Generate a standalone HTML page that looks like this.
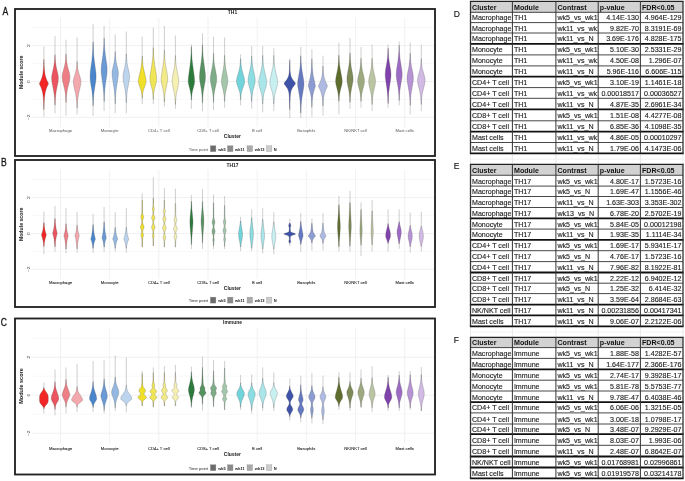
<!DOCTYPE html><html><head><meta charset="utf-8"><style>html,body{margin:0;padding:0;background:#fff;}svg{display:block;will-change:transform}</style></head><body>
<svg width="685" height="481" viewBox="0 0 685 481">
<rect width="685" height="481" fill="#ffffff"/>
<defs><clipPath id="pc0"><rect x="31" y="17.40" width="403" height="109.60"/></clipPath></defs>
<g clip-path="url(#pc0)">
<line x1="31" x2="434" y1="99.45" y2="99.45" stroke="#f3f3f3" stroke-width="0.5"/>
<line x1="31" x2="434" y1="63.55" y2="63.55" stroke="#f3f3f3" stroke-width="0.5"/>
<line x1="31" x2="434" y1="27.65" y2="27.65" stroke="#f3f3f3" stroke-width="0.5"/>
<line x1="31" x2="434" y1="117.40" y2="117.40" stroke="#e6e6e6" stroke-width="0.55"/>
<line x1="31" x2="434" y1="81.50" y2="81.50" stroke="#e6e6e6" stroke-width="0.55"/>
<line x1="31" x2="434" y1="45.60" y2="45.60" stroke="#e6e6e6" stroke-width="0.55"/>
<line x1="60.50" x2="60.50" y1="17.40" y2="127.00" stroke="#e6e6e6" stroke-width="0.55"/>
<line x1="109.67" x2="109.67" y1="17.40" y2="127.00" stroke="#e6e6e6" stroke-width="0.55"/>
<line x1="158.84" x2="158.84" y1="17.40" y2="127.00" stroke="#e6e6e6" stroke-width="0.55"/>
<line x1="208.01" x2="208.01" y1="17.40" y2="127.00" stroke="#e6e6e6" stroke-width="0.55"/>
<line x1="257.18" x2="257.18" y1="17.40" y2="127.00" stroke="#e6e6e6" stroke-width="0.55"/>
<line x1="306.35" x2="306.35" y1="17.40" y2="127.00" stroke="#e6e6e6" stroke-width="0.55"/>
<line x1="355.52" x2="355.52" y1="17.40" y2="127.00" stroke="#e6e6e6" stroke-width="0.55"/>
<line x1="404.69" x2="404.69" y1="17.40" y2="127.00" stroke="#e6e6e6" stroke-width="0.55"/>
</g>
<line x1="43.9" x2="43.9" y1="46.3" y2="116.8" stroke="#444" stroke-width="0.26"/>
<path d="M43.8,59.5 L43.7,64.3 L43.5,67.9 L43.2,71.1 L42.8,73.9 L42.3,76.3 L41.5,78.7 L40.7,80.7 L39.3,83.5 L39.4,83.9 L40.7,86.7 L41.6,89.1 L42.3,91.5 L42.8,93.9 L43.2,96.7 L43.5,100.3 L43.7,104.3 L43.8,109.5 L44.0,109.5 L44.1,104.3 L44.3,100.3 L44.6,96.7 L45.0,93.9 L45.5,91.5 L46.2,89.1 L47.1,86.7 L48.4,83.9 L48.5,83.5 L47.1,80.7 L46.3,78.7 L45.5,76.3 L45.0,73.9 L44.6,71.1 L44.3,67.9 L44.1,64.3 L44.0,59.5Z" fill="#f22626" stroke="#484848" stroke-width="0.24" stroke-linejoin="round"/>
<line x1="55.0" x2="55.0" y1="36.0" y2="113.4" stroke="#444" stroke-width="0.26"/>
<path d="M54.9,54.8 L54.7,59.6 L54.2,63.6 L53.6,67.2 L52.0,74.4 L51.7,76.4 L51.6,78.0 L51.7,80.0 L52.0,82.4 L53.6,90.8 L54.3,95.2 L54.7,99.6 L54.9,105.2 L55.1,105.2 L55.3,99.6 L55.7,95.2 L56.3,90.8 L58.0,82.4 L58.3,80.0 L58.4,78.0 L58.3,76.4 L58.0,74.4 L56.3,67.2 L55.7,63.6 L55.3,59.6 L55.1,54.8Z" fill="#ea5560" stroke="#484848" stroke-width="0.24" stroke-linejoin="round"/>
<line x1="66.0" x2="66.0" y1="39.7" y2="115.7" stroke="#444" stroke-width="0.26"/>
<path d="M65.9,54.1 L65.7,58.9 L65.5,60.9 L65.2,62.9 L64.4,66.5 L62.6,73.3 L62.2,75.3 L62.1,76.9 L62.3,78.9 L62.6,80.9 L64.4,88.5 L65.2,92.5 L65.5,94.5 L65.7,96.9 L65.9,102.5 L66.1,102.5 L66.4,96.9 L66.6,94.5 L66.9,92.5 L67.6,88.5 L69.5,80.9 L69.8,78.9 L69.9,76.9 L69.8,75.3 L69.5,73.3 L67.6,66.5 L66.9,62.9 L66.6,60.9 L66.4,58.9 L66.1,54.1Z" fill="#ee7e86" stroke="#484848" stroke-width="0.24" stroke-linejoin="round"/>
<line x1="77.1" x2="77.1" y1="37.4" y2="114.5" stroke="#444" stroke-width="0.26"/>
<path d="M77.0,61.4 L76.8,65.4 L76.6,67.4 L76.3,69.0 L75.6,72.2 L73.8,78.2 L73.4,79.8 L73.3,81.4 L73.4,83.4 L73.7,85.4 L74.1,87.4 L75.6,93.8 L76.3,98.2 L76.8,102.6 L77.0,108.2 L77.2,108.2 L77.4,102.6 L77.9,98.2 L78.6,93.8 L80.1,87.4 L80.5,85.4 L80.8,83.4 L80.9,81.4 L80.8,79.8 L80.4,78.2 L78.6,72.2 L77.9,69.0 L77.6,67.4 L77.4,65.4 L77.2,61.4Z" fill="#f3a8ae" stroke="#484848" stroke-width="0.24" stroke-linejoin="round"/>
<line x1="93.1" x2="93.1" y1="24.2" y2="115.7" stroke="#444" stroke-width="0.26"/>
<path d="M93.0,41.8 L92.8,49.0 L92.4,55.0 L91.9,60.2 L90.4,71.0 L90.2,73.8 L90.1,76.6 L90.2,79.0 L90.4,81.4 L91.9,90.6 L92.4,95.0 L92.8,99.8 L93.0,105.8 L93.2,105.8 L93.4,99.8 L93.7,95.0 L94.3,90.6 L95.7,81.4 L96.0,79.0 L96.1,76.6 L96.0,73.8 L95.7,71.0 L94.3,60.2 L93.7,55.0 L93.4,49.0 L93.2,41.8Z" fill="#4a86cc" stroke="#484848" stroke-width="0.24" stroke-linejoin="round"/>
<line x1="104.1" x2="104.1" y1="26.0" y2="111.0" stroke="#444" stroke-width="0.26"/>
<path d="M104.1,38.0 L103.9,44.4 L103.5,49.6 L102.9,54.8 L101.5,64.8 L101.2,67.6 L101.1,70.0 L101.2,72.4 L101.5,75.2 L102.9,85.2 L103.5,90.0 L103.9,95.2 L104.1,101.6 L104.2,101.6 L104.4,95.2 L104.8,90.0 L105.3,85.2 L106.8,75.2 L107.1,72.4 L107.1,70.0 L107.1,67.6 L106.8,64.8 L105.4,54.8 L104.8,49.6 L104.4,44.4 L104.2,38.0Z" fill="#6a9ad6" stroke="#484848" stroke-width="0.24" stroke-linejoin="round"/>
<line x1="115.2" x2="115.2" y1="34.5" y2="113.4" stroke="#444" stroke-width="0.26"/>
<path d="M115.1,51.7 L114.9,56.1 L114.5,59.7 L114.0,62.9 L112.3,70.1 L112.1,71.7 L112.0,73.3 L112.1,75.7 L112.4,78.1 L113.9,87.7 L114.5,92.5 L114.9,97.7 L115.1,103.7 L115.3,103.7 L115.5,97.7 L115.9,92.5 L116.5,87.7 L118.0,78.1 L118.3,75.7 L118.4,73.3 L118.3,71.7 L118.1,70.1 L116.4,62.9 L115.9,59.7 L115.5,56.1 L115.3,51.7Z" fill="#94b8e2" stroke="#484848" stroke-width="0.24" stroke-linejoin="round"/>
<line x1="126.3" x2="126.3" y1="31.5" y2="113.4" stroke="#444" stroke-width="0.26"/>
<path d="M126.2,53.9 L126.0,58.3 L125.6,62.3 L125.0,65.9 L123.4,73.1 L123.1,75.1 L123.0,76.7 L123.1,78.7 L123.3,80.7 L125.0,89.1 L125.6,93.1 L126.0,97.5 L126.2,102.7 L126.4,102.7 L126.6,97.5 L127.0,93.1 L127.6,89.1 L129.2,80.7 L129.5,78.7 L129.6,76.7 L129.5,75.1 L129.2,73.1 L127.6,65.9 L127.0,62.3 L126.6,58.3 L126.4,53.9Z" fill="#bcd4ee" stroke="#484848" stroke-width="0.24" stroke-linejoin="round"/>
<line x1="142.2" x2="142.2" y1="36.7" y2="104.2" stroke="#444" stroke-width="0.26"/>
<path d="M142.2,55.9 L141.9,61.1 L141.7,63.5 L141.4,65.5 L140.7,69.5 L139.2,75.5 L138.8,77.5 L138.5,79.5 L138.3,81.5 L138.5,82.7 L138.8,83.9 L139.1,85.1 L140.6,89.1 L141.1,90.7 L141.4,91.9 L141.9,94.7 L142.2,98.3 L142.3,98.3 L142.6,94.7 L143.0,91.9 L143.3,90.7 L143.8,89.1 L145.3,85.1 L145.7,83.9 L146.0,82.7 L146.1,81.5 L146.0,79.5 L145.7,77.5 L145.3,75.5 L143.8,69.5 L143.0,65.5 L142.8,63.5 L142.6,61.1 L142.3,55.9Z" fill="#f0e02a" stroke="#484848" stroke-width="0.24" stroke-linejoin="round"/>
<line x1="153.3" x2="153.3" y1="27.6" y2="104.2" stroke="#444" stroke-width="0.26"/>
<path d="M153.2,47.6 L153.0,54.0 L152.6,59.6 L151.9,64.4 L150.3,74.0 L150.0,76.4 L149.9,78.8 L150.0,80.4 L150.3,82.0 L150.6,83.6 L151.9,88.4 L152.6,91.6 L153.0,95.2 L153.2,99.2 L153.4,99.2 L153.6,95.2 L154.0,91.6 L154.7,88.4 L156.0,83.6 L156.4,82.0 L156.6,80.4 L156.7,78.8 L156.6,76.4 L156.3,74.0 L154.7,64.4 L154.1,59.6 L153.6,54.0 L153.4,47.6Z" fill="#f0e556" stroke="#484848" stroke-width="0.24" stroke-linejoin="round"/>
<line x1="164.4" x2="164.4" y1="26.0" y2="106.5" stroke="#444" stroke-width="0.26"/>
<path d="M164.3,50.4 L164.1,56.4 L163.6,61.2 L163.0,65.6 L161.5,74.4 L161.2,76.8 L161.1,78.8 L161.1,80.4 L161.4,82.4 L161.8,84.4 L163.1,90.0 L163.7,93.6 L164.1,97.6 L164.3,102.0 L164.5,102.0 L164.7,97.6 L165.1,93.6 L165.7,90.0 L166.9,84.4 L167.3,82.4 L167.6,80.4 L167.7,78.8 L167.6,76.8 L167.3,74.4 L165.7,65.6 L165.1,61.2 L164.7,56.4 L164.5,50.4Z" fill="#f2ea88" stroke="#484848" stroke-width="0.24" stroke-linejoin="round"/>
<line x1="175.4" x2="175.4" y1="35.6" y2="108.8" stroke="#444" stroke-width="0.26"/>
<path d="M175.4,55.6 L175.1,60.8 L174.7,65.2 L174.1,69.2 L172.5,77.2 L172.3,79.2 L172.1,81.2 L172.2,82.8 L172.5,84.8 L172.9,86.8 L174.1,92.4 L174.8,96.0 L175.2,100.0 L175.4,104.4 L175.5,104.4 L175.7,100.0 L176.1,96.0 L176.7,92.4 L178.0,86.8 L178.4,84.8 L178.7,82.8 L178.7,81.2 L178.6,79.2 L178.3,77.2 L176.8,69.2 L176.1,65.2 L175.7,60.8 L175.5,55.6Z" fill="#f5f0b2" stroke="#484848" stroke-width="0.24" stroke-linejoin="round"/>
<line x1="191.4" x2="191.4" y1="44.3" y2="108.8" stroke="#444" stroke-width="0.26"/>
<path d="M191.3,46.7 L191.1,53.5 L190.7,59.5 L190.1,65.1 L188.6,75.9 L188.3,78.7 L188.2,81.5 L188.3,82.7 L188.6,84.3 L190.1,90.3 L190.7,93.1 L191.1,96.3 L191.3,99.9 L191.5,99.9 L191.7,96.3 L192.1,93.1 L192.7,90.3 L194.3,84.3 L194.5,82.7 L194.6,81.5 L194.5,78.7 L194.2,75.9 L192.7,65.1 L192.1,59.5 L191.7,53.5 L191.5,46.7Z" fill="#2c7a3c" stroke="#484848" stroke-width="0.24" stroke-linejoin="round"/>
<line x1="202.5" x2="202.5" y1="33.3" y2="111.0" stroke="#444" stroke-width="0.26"/>
<path d="M202.4,44.9 L202.2,51.3 L201.8,56.5 L201.3,61.3 L199.8,71.7 L199.6,74.5 L199.5,76.9 L199.6,78.9 L199.8,80.9 L201.3,89.3 L201.8,93.3 L202.2,97.7 L202.4,102.9 L202.6,102.9 L202.8,97.7 L203.1,93.3 L203.7,89.3 L205.2,80.9 L205.4,78.9 L205.5,76.9 L205.4,74.5 L205.1,71.7 L203.7,61.3 L203.1,56.5 L202.8,51.3 L202.6,44.9Z" fill="#55905f" stroke="#484848" stroke-width="0.24" stroke-linejoin="round"/>
<line x1="213.5" x2="213.5" y1="36.7" y2="110.0" stroke="#444" stroke-width="0.26"/>
<path d="M213.5,53.1 L213.3,58.3 L212.9,62.7 L212.3,66.7 L210.7,75.1 L210.4,77.1 L210.3,79.1 L210.4,80.7 L210.7,82.7 L212.2,89.9 L212.8,93.5 L213.2,97.5 L213.5,102.3 L213.6,102.3 L213.8,97.5 L214.2,93.5 L214.8,89.9 L216.4,82.7 L216.6,80.7 L216.7,79.1 L216.6,77.1 L216.4,75.1 L214.8,66.7 L214.2,62.7 L213.8,58.3 L213.6,53.1Z" fill="#7fac88" stroke="#484848" stroke-width="0.24" stroke-linejoin="round"/>
<line x1="224.6" x2="224.6" y1="37.4" y2="107.7" stroke="#444" stroke-width="0.26"/>
<path d="M224.5,55.4 L224.3,60.6 L223.9,65.0 L223.3,69.0 L221.8,77.4 L221.5,79.4 L221.4,81.4 L221.5,83.0 L221.8,84.6 L223.3,91.0 L223.9,94.2 L224.3,97.4 L224.5,101.4 L224.7,101.4 L224.9,97.4 L225.3,94.2 L225.9,91.0 L227.4,84.6 L227.7,83.0 L227.8,81.4 L227.7,79.4 L227.5,77.4 L225.9,69.0 L225.3,65.0 L224.9,60.6 L224.7,55.4Z" fill="#a4c6aa" stroke="#484848" stroke-width="0.24" stroke-linejoin="round"/>
<line x1="240.6" x2="240.6" y1="54.4" y2="105.4" stroke="#444" stroke-width="0.26"/>
<path d="M240.5,58.8 L240.2,63.6 L240.0,65.6 L239.7,67.6 L239.0,70.8 L237.3,76.4 L236.9,78.0 L236.6,79.6 L236.5,81.2 L236.6,82.4 L236.9,84.0 L237.4,85.6 L239.0,90.0 L239.8,92.8 L240.1,94.4 L240.3,96.0 L240.5,99.6 L240.7,99.6 L240.9,96.0 L241.1,94.4 L241.4,92.8 L242.2,90.0 L243.8,85.6 L244.3,84.0 L244.6,82.4 L244.7,81.2 L244.5,79.6 L244.2,78.0 L243.8,76.4 L242.2,70.8 L241.5,67.6 L241.2,65.6 L240.9,63.6 L240.7,58.8Z" fill="#70d4da" stroke="#484848" stroke-width="0.24" stroke-linejoin="round"/>
<line x1="251.7" x2="251.7" y1="45.9" y2="108.8" stroke="#444" stroke-width="0.26"/>
<path d="M251.6,55.9 L251.3,61.1 L250.9,65.1 L250.2,68.7 L248.5,76.3 L248.2,78.3 L248.1,80.3 L248.2,81.9 L248.4,83.5 L250.2,90.3 L250.9,93.5 L251.3,97.1 L251.6,101.5 L251.7,101.5 L252.0,97.1 L252.4,93.5 L253.1,90.3 L254.9,83.5 L255.1,81.9 L255.2,80.3 L255.1,78.3 L254.8,76.3 L253.1,68.7 L252.4,65.1 L252.0,61.1 L251.7,55.9Z" fill="#8cdde2" stroke="#484848" stroke-width="0.24" stroke-linejoin="round"/>
<line x1="262.7" x2="262.7" y1="45.9" y2="112.3" stroke="#444" stroke-width="0.26"/>
<path d="M262.6,55.5 L262.4,61.1 L262.2,63.5 L261.9,65.9 L261.2,69.9 L259.2,78.3 L258.9,80.3 L258.7,82.3 L258.8,83.9 L259.1,85.5 L259.6,87.5 L261.1,92.3 L261.6,94.3 L261.9,95.9 L262.4,99.5 L262.6,103.9 L262.8,103.9 L263.0,99.5 L263.5,95.9 L263.8,94.3 L264.3,92.3 L265.8,87.5 L266.3,85.5 L266.6,83.9 L266.7,82.3 L266.6,80.3 L266.2,78.3 L264.3,69.9 L263.5,65.9 L263.2,63.5 L263.0,61.1 L262.8,55.5Z" fill="#aae6e9" stroke="#484848" stroke-width="0.24" stroke-linejoin="round"/>
<line x1="273.8" x2="273.8" y1="48.2" y2="111.1" stroke="#444" stroke-width="0.26"/>
<path d="M273.7,55.4 L273.5,61.0 L273.3,63.4 L273.0,65.8 L272.7,67.8 L272.2,70.2 L270.3,78.2 L270.0,80.6 L269.9,82.6 L270.0,84.2 L270.3,85.8 L272.3,92.6 L273.0,95.8 L273.5,99.4 L273.7,103.8 L273.9,103.8 L274.1,99.4 L274.6,95.8 L275.3,92.6 L277.2,85.8 L277.5,84.2 L277.7,82.6 L277.6,80.6 L277.2,78.2 L275.4,70.2 L274.9,67.8 L274.6,65.8 L274.3,63.4 L274.1,61.0 L273.9,55.4Z" fill="#c8f0f1" stroke="#484848" stroke-width="0.24" stroke-linejoin="round"/>
<line x1="289.8" x2="289.8" y1="58.5" y2="118.0" stroke="#444" stroke-width="0.26"/>
<path d="M289.7,60.1 L289.5,66.1 L289.4,70.5 L289.1,73.3 L288.7,75.3 L288.2,76.9 L287.7,78.1 L286.7,79.7 L284.5,82.5 L284.1,83.3 L284.1,83.7 L284.5,84.5 L286.6,87.3 L287.4,88.5 L288.1,90.1 L288.7,92.1 L289.1,94.5 L289.3,97.3 L289.5,102.9 L289.7,109.7 L289.8,109.7 L290.0,102.9 L290.2,97.3 L290.4,94.5 L290.8,92.1 L291.4,90.1 L292.1,88.5 L292.9,87.3 L295.0,84.5 L295.4,83.7 L295.4,83.3 L295.0,82.5 L292.8,79.7 L291.8,78.1 L291.3,76.9 L290.8,75.3 L290.4,73.3 L290.1,70.5 L290.0,66.1 L289.8,60.1Z" fill="#3e53a8" stroke="#484848" stroke-width="0.24" stroke-linejoin="round"/>
<line x1="300.8" x2="300.8" y1="47.0" y2="118.0" stroke="#444" stroke-width="0.26"/>
<path d="M300.7,55.8 L300.5,61.8 L300.1,67.0 L299.4,71.8 L297.9,80.2 L297.7,82.2 L297.6,83.8 L297.7,85.4 L298.0,87.4 L299.5,96.2 L300.1,101.0 L300.5,106.6 L300.7,113.0 L300.9,113.0 L301.1,106.6 L301.5,101.0 L302.2,96.2 L303.7,87.4 L303.9,85.4 L304.0,83.8 L303.9,82.2 L303.7,80.2 L302.2,71.8 L301.5,67.0 L301.1,61.8 L300.9,55.8Z" fill="#6479c1" stroke="#484848" stroke-width="0.24" stroke-linejoin="round"/>
<line x1="311.9" x2="311.9" y1="49.3" y2="116.8" stroke="#444" stroke-width="0.26"/>
<path d="M311.8,58.9 L311.7,62.9 L311.5,66.5 L311.3,69.7 L311.0,72.5 L310.6,74.9 L310.2,77.3 L308.5,84.5 L308.3,85.7 L308.3,86.1 L308.6,87.3 L310.1,92.1 L310.6,94.1 L311.0,96.1 L311.3,98.5 L311.5,100.9 L311.7,103.7 L311.8,107.3 L312.0,107.3 L312.1,103.7 L312.2,100.9 L312.5,98.5 L312.8,96.1 L313.2,94.1 L313.6,92.1 L315.1,87.3 L315.5,86.1 L315.4,85.7 L315.2,84.5 L313.6,77.3 L313.1,74.9 L312.8,72.5 L312.5,69.7 L312.2,66.5 L312.1,62.9 L312.0,58.9Z" fill="#8c9cd2" stroke="#484848" stroke-width="0.24" stroke-linejoin="round"/>
<line x1="323.0" x2="323.0" y1="55.7" y2="115.7" stroke="#444" stroke-width="0.26"/>
<path d="M322.9,66.1 L322.7,69.3 L322.6,72.1 L322.3,74.5 L321.8,76.9 L321.3,78.9 L320.8,80.5 L320.2,82.1 L318.7,85.3 L318.5,85.7 L318.5,86.1 L318.7,86.9 L320.2,90.1 L320.8,91.7 L321.3,93.3 L321.8,95.3 L322.3,97.7 L322.6,100.1 L322.7,102.9 L322.9,106.1 L323.0,106.1 L323.2,102.9 L323.3,100.1 L323.6,97.7 L324.1,95.3 L324.6,93.3 L325.1,91.7 L325.7,90.1 L327.2,86.9 L327.4,86.1 L327.4,85.7 L327.2,85.3 L325.7,82.1 L325.1,80.5 L324.6,78.9 L324.1,76.9 L323.6,74.5 L323.3,72.1 L323.2,69.3 L323.0,66.1Z" fill="#aebae1" stroke="#484848" stroke-width="0.24" stroke-linejoin="round"/>
<line x1="338.9" x2="338.9" y1="42.5" y2="114.5" stroke="#444" stroke-width="0.26"/>
<path d="M338.8,55.3 L338.6,60.9 L338.2,65.3 L337.6,69.3 L336.0,77.3 L335.7,79.3 L335.6,81.3 L335.7,82.9 L336.0,84.5 L337.6,90.9 L338.2,94.1 L338.6,97.3 L338.8,101.3 L339.0,101.3 L339.2,97.3 L339.6,94.1 L340.2,90.9 L341.9,84.5 L342.1,82.9 L342.2,81.3 L342.1,79.3 L341.8,77.3 L340.3,69.3 L339.6,65.3 L339.2,60.9 L339.0,55.3Z" fill="#5e6d2e" stroke="#484848" stroke-width="0.24" stroke-linejoin="round"/>
<line x1="350.0" x2="350.0" y1="37.9" y2="108.8" stroke="#444" stroke-width="0.26"/>
<path d="M349.9,53.1 L349.7,58.3 L349.3,62.7 L348.7,66.7 L347.3,74.7 L347.0,77.1 L346.9,79.1 L347.0,80.7 L347.2,82.7 L348.7,89.9 L349.3,93.5 L349.7,97.5 L349.9,102.3 L350.1,102.3 L350.3,97.5 L350.7,93.5 L351.3,89.9 L352.7,82.7 L353.0,80.7 L353.1,79.1 L353.0,77.1 L352.7,74.7 L351.2,66.7 L350.7,62.7 L350.3,58.3 L350.1,53.1Z" fill="#7d8956" stroke="#484848" stroke-width="0.24" stroke-linejoin="round"/>
<line x1="361.0" x2="361.0" y1="47.0" y2="107.7" stroke="#444" stroke-width="0.26"/>
<path d="M361.0,58.2 L360.7,63.0 L360.3,67.0 L359.7,70.6 L358.0,77.8 L357.7,79.8 L357.6,81.4 L357.8,83.0 L358.0,84.6 L359.6,90.6 L360.3,93.8 L360.7,97.4 L361.0,101.4 L361.1,101.4 L361.3,97.4 L361.8,93.8 L362.5,90.6 L364.1,84.6 L364.3,83.0 L364.4,81.4 L364.4,79.8 L364.1,77.8 L362.4,70.6 L361.8,67.0 L361.3,63.0 L361.1,58.2Z" fill="#9da97e" stroke="#484848" stroke-width="0.24" stroke-linejoin="round"/>
<line x1="372.1" x2="372.1" y1="44.7" y2="111.1" stroke="#444" stroke-width="0.26"/>
<path d="M372.0,58.3 L371.8,63.1 L371.4,67.1 L370.7,70.7 L369.1,77.9 L368.8,79.9 L368.7,81.5 L368.8,83.1 L369.1,85.1 L370.7,91.9 L371.4,95.5 L371.8,99.5 L372.0,104.3 L372.2,104.3 L372.4,99.5 L372.9,95.5 L373.5,91.9 L375.1,85.1 L375.4,83.1 L375.5,81.5 L375.4,79.9 L375.2,77.9 L373.5,70.7 L372.9,67.1 L372.4,63.1 L372.2,58.3Z" fill="#bcc5a3" stroke="#484848" stroke-width="0.24" stroke-linejoin="round"/>
<line x1="388.1" x2="388.1" y1="44.7" y2="107.7" stroke="#444" stroke-width="0.26"/>
<path d="M388.0,48.3 L387.8,53.5 L387.5,57.9 L386.9,61.9 L385.5,70.3 L385.3,72.7 L385.2,74.7 L385.3,77.1 L385.6,79.5 L386.9,88.3 L387.4,92.7 L387.8,97.5 L388.0,103.5 L388.2,103.5 L388.4,97.5 L388.7,92.7 L389.3,88.3 L390.6,79.5 L390.9,77.1 L391.0,74.7 L390.9,72.7 L390.7,70.3 L389.3,61.9 L388.7,57.9 L388.4,53.5 L388.2,48.3Z" fill="#8042ab" stroke="#484848" stroke-width="0.24" stroke-linejoin="round"/>
<line x1="399.2" x2="399.2" y1="41.3" y2="105.4" stroke="#444" stroke-width="0.26"/>
<path d="M399.1,45.3 L398.9,51.3 L398.5,56.1 L398.0,60.5 L396.5,69.7 L396.3,72.1 L396.2,74.5 L396.3,76.5 L396.5,78.5 L398.0,86.9 L398.5,90.9 L398.9,95.3 L399.1,100.5 L399.2,100.5 L399.4,95.3 L399.8,90.9 L400.4,86.9 L401.8,78.5 L402.1,76.5 L402.2,74.5 L402.1,72.1 L401.8,69.7 L400.3,60.5 L399.8,56.1 L399.4,51.3 L399.2,45.3Z" fill="#9c6bc3" stroke="#484848" stroke-width="0.24" stroke-linejoin="round"/>
<line x1="410.2" x2="410.2" y1="42.5" y2="114.5" stroke="#444" stroke-width="0.26"/>
<path d="M410.1,53.3 L409.9,58.5 L409.5,62.5 L408.9,66.5 L407.4,74.1 L407.1,76.1 L407.0,78.1 L407.1,80.1 L407.4,82.5 L408.9,90.9 L409.5,95.3 L409.9,99.7 L410.1,105.3 L410.3,105.3 L410.5,99.7 L410.9,95.3 L411.5,90.9 L413.0,82.5 L413.3,80.1 L413.4,78.1 L413.3,76.1 L413.1,74.1 L411.5,66.5 L410.9,62.5 L410.5,58.5 L410.3,53.3Z" fill="#b693d3" stroke="#484848" stroke-width="0.24" stroke-linejoin="round"/>
<line x1="421.3" x2="421.3" y1="44.7" y2="111.1" stroke="#444" stroke-width="0.26"/>
<path d="M421.2,58.7 L421.0,63.1 L420.5,66.7 L420.2,68.3 L419.8,70.3 L418.3,75.5 L417.9,77.1 L417.6,78.7 L417.5,80.3 L417.6,81.9 L417.9,83.9 L419.8,91.5 L420.5,95.1 L420.9,99.1 L421.2,104.3 L421.4,104.3 L421.6,99.1 L422.1,95.1 L422.8,91.5 L424.7,83.9 L425.0,81.9 L425.1,80.3 L425.0,78.7 L424.7,77.1 L424.3,75.5 L422.8,70.3 L422.3,68.3 L422.0,66.7 L421.6,63.1 L421.4,58.7Z" fill="#d1bae4" stroke="#484848" stroke-width="0.24" stroke-linejoin="round"/>
<text transform="translate(29.5,45.60) rotate(-90) scale(1.35,1)" font-size="3.7" fill="#444" text-anchor="middle" style="font-family:'Liberation Sans',sans-serif">2</text>
<text transform="translate(29.5,81.50) rotate(-90) scale(1.35,1)" font-size="3.7" fill="#444" text-anchor="middle" style="font-family:'Liberation Sans',sans-serif">0</text>
<text transform="translate(29.5,117.40) rotate(-90) scale(1.35,1)" font-size="3.7" fill="#444" text-anchor="middle" style="font-family:'Liberation Sans',sans-serif">−2</text>
<text transform="translate(22.9,72.40) rotate(-90)" font-size="5.20" font-weight="bold" fill="#1a1a1a" text-anchor="middle" style="font-family:'Liberation Sans',sans-serif">Module score</text>
<text transform="translate(232.5,14.40) scale(0.9,1)" font-size="5.5" font-weight="bold" fill="#1a1a1a" text-anchor="middle" style="font-family:'Liberation Sans',sans-serif">TH1</text>
<text x="60.50" y="132.30" font-size="4.15" fill="#555" stroke="#555" stroke-width="0.00" text-anchor="middle" style="font-family:'Liberation Sans',sans-serif">Macrophage</text>
<text x="109.67" y="132.30" font-size="4.15" fill="#555" stroke="#555" stroke-width="0.00" text-anchor="middle" style="font-family:'Liberation Sans',sans-serif">Monocyte</text>
<text x="158.84" y="132.30" font-size="4.15" fill="#555" stroke="#555" stroke-width="0.00" text-anchor="middle" style="font-family:'Liberation Sans',sans-serif">CD4+ T cell</text>
<text x="208.01" y="132.30" font-size="4.15" fill="#555" stroke="#555" stroke-width="0.00" text-anchor="middle" style="font-family:'Liberation Sans',sans-serif">CD8+ T cell</text>
<text x="257.18" y="132.30" font-size="4.15" fill="#555" stroke="#555" stroke-width="0.00" text-anchor="middle" style="font-family:'Liberation Sans',sans-serif">B cell</text>
<text x="306.35" y="132.30" font-size="4.15" fill="#555" stroke="#555" stroke-width="0.00" text-anchor="middle" style="font-family:'Liberation Sans',sans-serif">Basophils</text>
<text x="355.52" y="132.30" font-size="4.15" fill="#555" stroke="#555" stroke-width="0.00" text-anchor="middle" style="font-family:'Liberation Sans',sans-serif">NK/NKT cell</text>
<text x="404.69" y="132.30" font-size="4.15" fill="#555" stroke="#555" stroke-width="0.00" text-anchor="middle" style="font-family:'Liberation Sans',sans-serif">Mast cells</text>
<text x="232.4" y="138.20" font-size="5.0" font-weight="bold" fill="#1a1a1a" text-anchor="middle" style="font-family:'Liberation Sans',sans-serif">Cluster</text>
<text x="188.7" y="150.60" font-size="4.2" fill="#555" style="font-family:'Liberation Sans',sans-serif">Time point</text>
<rect x="210.30" y="145.70" width="5.6" height="6" fill="#6b6b6b" stroke="#999" stroke-width="0.3"/>
<text x="218.20" y="150.60" font-size="4.0" font-weight="bold" fill="#1a1a1a" style="font-family:'Liberation Sans',sans-serif">wk5</text>
<rect x="227.40" y="145.70" width="5.6" height="6" fill="#8a8a8a" stroke="#999" stroke-width="0.3"/>
<text x="235.10" y="150.60" font-size="4.0" font-weight="bold" fill="#1a1a1a" style="font-family:'Liberation Sans',sans-serif">wk11</text>
<rect x="247.00" y="145.70" width="5.6" height="6" fill="#aaaaaa" stroke="#999" stroke-width="0.3"/>
<text x="254.80" y="150.60" font-size="4.0" font-weight="bold" fill="#1a1a1a" style="font-family:'Liberation Sans',sans-serif">wk13</text>
<rect x="266.30" y="145.70" width="5.6" height="6" fill="#cccccc" stroke="#999" stroke-width="0.3"/>
<text x="273.70" y="150.60" font-size="4.0" font-weight="bold" fill="#1a1a1a" style="font-family:'Liberation Sans',sans-serif">N</text>
<rect x="15.00" y="9.00" width="420.00" height="147.00" fill="none" stroke="#222" stroke-width="1.85"/>
<text transform="translate(2.60,15.10) scale(0.86,1)" font-size="10" fill="#111" stroke="#111" stroke-width="0.25" style="font-family:'Liberation Sans',sans-serif">A</text>
<defs><clipPath id="pc1"><rect x="31" y="169.40" width="403" height="109.60"/></clipPath></defs>
<g clip-path="url(#pc1)">
<line x1="31" x2="434" y1="251.45" y2="251.45" stroke="#f3f3f3" stroke-width="0.5"/>
<line x1="31" x2="434" y1="215.55" y2="215.55" stroke="#f3f3f3" stroke-width="0.5"/>
<line x1="31" x2="434" y1="179.65" y2="179.65" stroke="#f3f3f3" stroke-width="0.5"/>
<line x1="31" x2="434" y1="269.40" y2="269.40" stroke="#e6e6e6" stroke-width="0.55"/>
<line x1="31" x2="434" y1="233.50" y2="233.50" stroke="#e6e6e6" stroke-width="0.55"/>
<line x1="31" x2="434" y1="197.60" y2="197.60" stroke="#e6e6e6" stroke-width="0.55"/>
<line x1="60.50" x2="60.50" y1="169.40" y2="279.00" stroke="#e6e6e6" stroke-width="0.55"/>
<line x1="109.67" x2="109.67" y1="169.40" y2="279.00" stroke="#e6e6e6" stroke-width="0.55"/>
<line x1="158.84" x2="158.84" y1="169.40" y2="279.00" stroke="#e6e6e6" stroke-width="0.55"/>
<line x1="208.01" x2="208.01" y1="169.40" y2="279.00" stroke="#e6e6e6" stroke-width="0.55"/>
<line x1="257.18" x2="257.18" y1="169.40" y2="279.00" stroke="#e6e6e6" stroke-width="0.55"/>
<line x1="306.35" x2="306.35" y1="169.40" y2="279.00" stroke="#e6e6e6" stroke-width="0.55"/>
<line x1="355.52" x2="355.52" y1="169.40" y2="279.00" stroke="#e6e6e6" stroke-width="0.55"/>
<line x1="404.69" x2="404.69" y1="169.40" y2="279.00" stroke="#e6e6e6" stroke-width="0.55"/>
</g>
<line x1="43.9" x2="43.9" y1="211.6" y2="254.0" stroke="#444" stroke-width="0.26"/>
<path d="M43.7,222.8 L43.4,226.4 L43.0,229.2 L42.4,232.0 L41.5,234.8 L41.5,235.2 L42.4,238.0 L43.0,240.4 L43.5,243.2 L43.7,246.4 L44.1,246.4 L44.3,243.2 L44.8,240.4 L45.4,238.0 L46.3,235.2 L46.3,234.8 L45.4,232.0 L44.8,229.2 L44.4,226.4 L44.1,222.8Z" fill="#f22626" stroke="#484848" stroke-width="0.24" stroke-linejoin="round"/>
<line x1="55.0" x2="55.0" y1="205.9" y2="251.7" stroke="#444" stroke-width="0.26"/>
<path d="M54.8,218.7 L54.5,222.7 L54.2,226.3 L53.7,229.1 L52.7,233.1 L52.7,233.5 L53.6,236.7 L54.1,239.5 L54.5,242.7 L54.8,246.7 L55.2,246.7 L55.4,242.7 L55.8,239.5 L56.4,236.7 L57.2,233.5 L57.2,233.1 L56.2,229.1 L55.8,226.3 L55.4,222.7 L55.2,218.7Z" fill="#ea5560" stroke="#484848" stroke-width="0.24" stroke-linejoin="round"/>
<line x1="66.0" x2="66.0" y1="208.2" y2="253.5" stroke="#444" stroke-width="0.26"/>
<path d="M65.8,223.8 L65.6,227.0 L65.3,229.8 L64.7,232.6 L63.9,235.4 L63.9,235.8 L64.7,239.0 L65.2,241.8 L65.6,245.0 L65.8,249.0 L66.2,249.0 L66.5,245.0 L66.9,241.8 L67.4,239.0 L68.2,235.8 L68.2,235.4 L67.4,232.6 L66.8,229.8 L66.5,227.0 L66.2,223.8Z" fill="#ee7e86" stroke="#484848" stroke-width="0.24" stroke-linejoin="round"/>
<line x1="77.1" x2="77.1" y1="211.6" y2="252.8" stroke="#444" stroke-width="0.26"/>
<path d="M76.9,225.2 L76.6,228.4 L76.3,230.8 L75.8,232.8 L74.9,235.6 L75.7,238.8 L76.2,241.6 L76.6,244.8 L76.9,248.8 L77.3,248.8 L77.6,244.8 L78.0,241.6 L78.5,238.8 L79.3,235.6 L78.4,232.8 L77.9,230.8 L77.6,228.4 L77.3,225.2Z" fill="#f3a8ae" stroke="#484848" stroke-width="0.24" stroke-linejoin="round"/>
<line x1="93.1" x2="93.1" y1="213.9" y2="252.8" stroke="#444" stroke-width="0.26"/>
<path d="M92.9,224.7 L92.6,228.7 L92.2,232.3 L91.7,235.5 L90.8,239.1 L91.7,241.5 L92.2,243.5 L92.6,245.5 L92.9,248.3 L93.3,248.3 L93.5,245.5 L93.9,243.5 L94.5,241.5 L95.4,239.1 L94.5,235.5 L93.9,232.3 L93.5,228.7 L93.3,224.7Z" fill="#4a86cc" stroke="#484848" stroke-width="0.24" stroke-linejoin="round"/>
<line x1="104.1" x2="104.1" y1="207.0" y2="251.7" stroke="#444" stroke-width="0.26"/>
<path d="M103.9,221.8 L103.7,226.6 L103.3,230.6 L102.8,233.8 L102.0,237.8 L102.0,238.2 L102.9,240.6 L103.4,242.6 L103.7,244.6 L103.9,247.0 L104.4,247.0 L104.6,244.6 L104.9,242.6 L105.4,240.6 L106.3,238.2 L106.3,237.8 L105.5,233.8 L105.0,230.6 L104.6,226.6 L104.3,221.8Z" fill="#6a9ad6" stroke="#484848" stroke-width="0.24" stroke-linejoin="round"/>
<line x1="115.2" x2="115.2" y1="212.3" y2="251.7" stroke="#444" stroke-width="0.26"/>
<path d="M115.0,227.5 L114.7,231.1 L114.2,233.9 L113.6,236.3 L112.7,239.1 L113.7,241.5 L114.3,243.5 L114.7,245.5 L115.0,248.3 L115.4,248.3 L115.7,245.5 L116.1,243.5 L116.7,241.5 L117.7,239.1 L116.8,236.3 L116.2,233.9 L115.7,231.1 L115.4,227.5Z" fill="#94b8e2" stroke="#484848" stroke-width="0.24" stroke-linejoin="round"/>
<line x1="126.3" x2="126.3" y1="208.2" y2="252.8" stroke="#444" stroke-width="0.26"/>
<path d="M126.1,227.4 L125.8,231.0 L125.3,233.8 L124.7,236.2 L123.8,239.0 L123.9,239.4 L124.9,241.8 L125.4,243.4 L125.8,245.4 L126.1,248.2 L126.5,248.2 L126.8,245.4 L127.2,243.4 L127.6,241.8 L128.7,239.4 L128.7,239.0 L127.8,236.2 L127.2,233.8 L126.8,231.0 L126.5,227.4Z" fill="#bcd4ee" stroke="#484848" stroke-width="0.24" stroke-linejoin="round"/>
<line x1="142.2" x2="142.2" y1="193.3" y2="247.1" stroke="#444" stroke-width="0.26"/>
<path d="M142.1,200.1 L141.9,212.5 L141.9,213.3 L141.7,214.1 L141.0,216.1 L140.8,216.9 L140.9,217.7 L141.6,219.7 L141.8,220.5 L141.8,221.3 L141.8,222.5 L141.7,223.3 L141.5,224.1 L140.6,226.1 L140.4,226.9 L140.4,227.3 L140.6,228.1 L141.5,230.1 L141.7,231.3 L141.7,232.5 L141.0,234.5 L140.9,235.3 L141.1,236.1 L141.7,237.7 L141.9,238.9 L142.0,240.5 L142.1,247.1 L142.4,247.1 L142.5,240.5 L142.6,238.9 L142.8,237.7 L143.4,236.1 L143.5,235.3 L143.4,234.5 L142.8,232.5 L142.7,231.3 L143.0,230.1 L143.9,228.1 L144.1,227.3 L144.1,226.9 L143.8,226.1 L143.0,224.1 L142.7,223.3 L142.6,222.5 L142.6,221.3 L142.7,220.5 L142.9,219.7 L143.6,217.7 L143.6,216.9 L143.5,216.1 L142.8,214.1 L142.6,213.3 L142.5,212.5 L142.4,200.1Z" fill="#f0e02a" stroke="#484848" stroke-width="0.24" stroke-linejoin="round"/>
<line x1="153.3" x2="153.3" y1="177.3" y2="246.0" stroke="#444" stroke-width="0.26"/>
<path d="M153.2,198.1 L153.1,205.7 L152.9,206.5 L152.5,208.1 L152.4,208.9 L152.4,209.7 L152.9,211.7 L153.0,213.3 L152.9,214.1 L152.7,214.9 L151.8,216.9 L151.6,217.7 L151.7,218.5 L152.4,220.1 L152.7,220.9 L152.9,221.7 L152.9,222.9 L152.7,224.1 L152.4,224.9 L151.6,226.5 L151.5,227.3 L151.7,228.1 L152.6,230.1 L152.8,230.9 L152.9,231.7 L152.9,233.3 L152.8,234.1 L152.5,235.3 L152.4,236.1 L152.6,236.9 L152.9,238.1 L153.0,238.9 L153.2,246.0 L153.5,246.0 L153.6,238.9 L153.7,238.1 L154.0,236.9 L154.2,236.1 L154.1,235.3 L153.8,234.1 L153.7,233.3 L153.7,231.7 L153.8,230.9 L154.0,230.1 L155.0,228.1 L155.2,227.3 L155.0,226.5 L154.3,224.9 L153.9,224.1 L153.7,222.9 L153.8,221.7 L153.9,220.9 L154.2,220.1 L154.9,218.5 L155.0,217.7 L154.9,216.9 L153.9,214.9 L153.7,214.1 L153.7,213.3 L153.7,211.7 L154.2,209.7 L154.3,208.9 L154.1,208.1 L153.7,206.5 L153.6,205.7 L153.4,198.1Z" fill="#f0e556" stroke="#484848" stroke-width="0.24" stroke-linejoin="round"/>
<line x1="164.4" x2="164.4" y1="188.0" y2="247.1" stroke="#444" stroke-width="0.26"/>
<path d="M164.2,200.0 L164.1,207.6 L163.9,208.8 L163.5,210.0 L163.3,210.8 L163.4,211.6 L163.9,213.6 L164.0,214.8 L163.8,216.0 L163.0,218.0 L162.8,218.8 L162.8,219.6 L163.8,222.0 L163.9,222.8 L163.9,223.6 L163.7,224.8 L163.4,225.6 L162.6,227.2 L162.4,228.0 L162.6,228.8 L163.4,230.4 L163.8,231.2 L164.0,232.4 L164.0,233.6 L163.9,234.4 L163.7,235.2 L163.0,236.8 L162.9,237.2 L162.9,237.6 L163.2,238.4 L163.9,240.0 L164.1,240.8 L164.2,242.4 L164.2,247.1 L164.5,247.1 L164.6,242.4 L164.7,240.8 L164.9,240.0 L165.6,238.4 L165.8,237.6 L165.8,237.2 L165.8,236.8 L165.1,235.2 L164.8,234.4 L164.7,233.6 L164.8,232.4 L165.0,231.2 L165.3,230.4 L166.1,228.8 L166.3,228.0 L166.2,227.2 L165.3,225.6 L165.0,224.8 L164.8,223.6 L164.8,222.8 L165.0,222.0 L165.9,219.6 L166.0,218.8 L165.8,218.0 L164.9,216.0 L164.7,214.8 L164.8,213.6 L165.4,211.6 L165.4,210.8 L165.2,210.0 L164.8,208.8 L164.6,207.6 L164.5,200.0Z" fill="#f2ea88" stroke="#484848" stroke-width="0.24" stroke-linejoin="round"/>
<line x1="175.4" x2="175.4" y1="188.7" y2="247.1" stroke="#444" stroke-width="0.26"/>
<path d="M175.3,203.5 L175.1,215.9 L174.9,217.1 L174.2,219.1 L174.0,219.9 L174.1,220.7 L174.7,222.3 L174.9,223.1 L175.0,224.3 L174.8,225.5 L174.5,226.3 L173.6,227.9 L173.5,228.7 L173.6,229.5 L174.6,231.5 L174.9,232.3 L174.9,232.7 L174.9,233.5 L174.9,233.9 L174.6,234.7 L174.1,235.9 L174.0,236.7 L174.1,237.5 L174.8,239.1 L175.1,240.3 L175.2,241.9 L175.3,247.1 L175.6,247.1 L175.7,241.9 L175.8,240.3 L176.1,239.1 L176.8,237.5 L176.9,236.7 L176.8,235.9 L176.3,234.7 L176.0,233.9 L175.9,233.5 L175.9,232.7 L176.0,232.3 L176.2,231.5 L177.2,229.5 L177.4,228.7 L177.2,227.9 L176.4,226.3 L176.1,225.5 L175.9,224.3 L176.0,223.1 L176.2,222.3 L176.8,220.7 L176.9,219.9 L176.7,219.1 L175.9,217.1 L175.8,215.9 L175.6,203.5Z" fill="#f5f0b2" stroke="#484848" stroke-width="0.24" stroke-linejoin="round"/>
<line x1="191.4" x2="191.4" y1="194.9" y2="249.0" stroke="#444" stroke-width="0.26"/>
<path d="M191.3,201.3 L191.0,208.1 L190.0,218.5 L189.9,222.1 L190.0,225.7 L191.0,236.9 L191.3,244.5 L191.5,244.5 L191.9,236.9 L192.8,225.7 L193.0,222.1 L192.8,218.5 L191.8,208.1 L191.5,201.3Z" fill="#2c7a3c" stroke="#484848" stroke-width="0.24" stroke-linejoin="round"/>
<line x1="202.5" x2="202.5" y1="189.0" y2="249.0" stroke="#444" stroke-width="0.26"/>
<path d="M202.4,201.4 L202.1,207.8 L201.2,217.8 L201.0,221.0 L201.2,224.6 L202.1,235.8 L202.4,243.0 L202.6,243.0 L202.9,235.8 L203.8,224.6 L203.9,221.0 L203.8,217.8 L202.9,207.8 L202.6,201.4Z" fill="#55905f" stroke="#484848" stroke-width="0.24" stroke-linejoin="round"/>
<line x1="213.5" x2="213.5" y1="194.5" y2="249.0" stroke="#444" stroke-width="0.26"/>
<path d="M213.4,202.9 L213.2,216.9 L213.0,218.5 L212.3,220.9 L212.2,222.1 L212.2,222.9 L212.9,225.3 L213.0,226.1 L213.0,226.9 L212.9,228.1 L212.1,230.5 L212.0,231.3 L212.0,231.7 L212.1,232.5 L212.8,234.5 L213.0,235.3 L213.2,236.1 L213.2,236.9 L213.2,237.7 L212.9,239.3 L212.8,240.1 L213.3,242.5 L213.4,245.7 L213.7,245.7 L213.8,242.5 L214.3,240.1 L214.2,239.3 L213.9,237.7 L213.9,236.9 L213.9,236.1 L214.0,235.3 L214.2,234.5 L214.9,232.5 L215.1,231.7 L215.1,231.3 L215.0,230.5 L214.2,228.1 L214.1,226.9 L214.1,226.1 L214.2,225.3 L214.8,222.9 L214.9,222.1 L214.8,220.9 L214.1,218.5 L213.9,216.9 L213.7,202.9Z" fill="#7fac88" stroke="#484848" stroke-width="0.24" stroke-linejoin="round"/>
<line x1="224.6" x2="224.6" y1="196.0" y2="249.0" stroke="#444" stroke-width="0.26"/>
<path d="M224.5,205.6 L224.3,215.6 L224.3,217.6 L224.1,218.8 L223.4,221.2 L223.3,222.0 L223.4,222.8 L224.0,225.2 L224.1,226.4 L223.9,227.6 L223.1,230.0 L223.0,230.8 L223.1,231.6 L224.0,234.0 L224.2,235.2 L224.2,236.0 L224.2,236.8 L223.7,238.8 L223.7,239.6 L223.8,240.4 L224.2,241.6 L224.3,242.4 L224.4,243.6 L224.5,246.4 L224.7,246.4 L224.8,243.6 L224.9,242.4 L225.1,241.6 L225.4,240.4 L225.6,239.6 L225.5,238.8 L225.0,236.8 L225.0,236.0 L225.0,235.2 L225.2,234.0 L226.1,231.6 L226.2,230.8 L226.1,230.0 L225.3,227.6 L225.1,226.4 L225.2,225.2 L225.8,222.8 L225.9,222.0 L225.8,221.2 L225.1,218.8 L225.0,217.6 L224.9,215.6 L224.7,205.6Z" fill="#a4c6aa" stroke="#484848" stroke-width="0.24" stroke-linejoin="round"/>
<line x1="240.6" x2="240.6" y1="216.9" y2="251.2" stroke="#444" stroke-width="0.26"/>
<path d="M240.4,220.9 L240.2,222.9 L239.9,224.9 L238.8,231.3 L238.6,232.9 L238.6,234.5 L238.6,235.7 L238.8,237.3 L239.9,243.3 L240.4,246.9 L240.8,246.9 L241.2,243.3 L242.4,237.3 L242.5,235.7 L242.6,234.5 L242.5,232.9 L242.3,231.3 L241.2,224.9 L241.0,222.9 L240.8,220.9Z" fill="#70d4da" stroke="#484848" stroke-width="0.24" stroke-linejoin="round"/>
<line x1="251.7" x2="251.7" y1="209.3" y2="251.2" stroke="#444" stroke-width="0.26"/>
<path d="M251.4,217.7 L251.1,222.1 L250.1,230.1 L249.9,232.1 L249.9,234.1 L249.9,235.7 L250.0,237.3 L251.0,244.1 L251.4,248.1 L251.9,248.1 L252.3,244.1 L253.3,237.3 L253.4,235.7 L253.4,234.1 L253.4,232.1 L253.2,230.1 L252.2,222.1 L251.9,217.7Z" fill="#8cdde2" stroke="#484848" stroke-width="0.24" stroke-linejoin="round"/>
<line x1="262.7" x2="262.7" y1="208.2" y2="253.5" stroke="#444" stroke-width="0.26"/>
<path d="M262.5,219.4 L262.1,224.2 L261.1,232.2 L261.0,234.2 L260.9,235.8 L261.0,237.4 L261.1,239.0 L262.1,245.4 L262.5,249.0 L262.9,249.0 L263.3,245.4 L264.3,239.0 L264.5,237.4 L264.5,235.8 L264.5,234.2 L264.3,232.2 L263.3,224.2 L262.9,219.4Z" fill="#aae6e9" stroke="#484848" stroke-width="0.24" stroke-linejoin="round"/>
<line x1="273.8" x2="273.8" y1="212.3" y2="254.4" stroke="#444" stroke-width="0.26"/>
<path d="M273.6,221.9 L273.4,224.3 L273.1,226.3 L272.0,233.5 L271.8,235.5 L271.8,237.1 L271.8,238.3 L272.0,239.5 L273.1,245.5 L273.4,247.1 L273.6,249.1 L274.0,249.1 L274.2,247.1 L274.4,245.5 L275.6,239.5 L275.7,238.3 L275.8,237.1 L275.7,235.5 L275.6,233.5 L274.4,226.3 L274.2,224.3 L274.0,221.9Z" fill="#c8f0f1" stroke="#484848" stroke-width="0.24" stroke-linejoin="round"/>
<line x1="289.8" x2="289.8" y1="218.5" y2="246.0" stroke="#444" stroke-width="0.26"/>
<path d="M289.5,222.9 L289.2,223.7 L288.7,224.9 L288.6,225.3 L288.6,225.7 L289.1,227.3 L289.2,228.1 L289.2,229.3 L289.0,230.9 L289.0,231.3 L288.8,231.7 L288.4,232.1 L287.6,232.5 L285.1,233.3 L284.1,233.7 L283.9,234.1 L284.6,234.5 L287.1,235.3 L288.1,235.7 L288.6,236.1 L288.9,236.5 L289.1,236.9 L289.2,237.7 L289.3,239.3 L289.2,239.7 L288.8,240.9 L288.7,241.3 L288.8,241.7 L289.5,243.3 L290.0,243.3 L290.7,241.7 L290.8,241.3 L290.7,240.9 L290.3,239.7 L290.2,239.3 L290.3,237.7 L290.4,236.9 L290.6,236.5 L290.9,236.1 L291.4,235.7 L292.4,235.3 L294.9,234.5 L295.6,234.1 L295.4,233.7 L294.4,233.3 L291.9,232.5 L291.1,232.1 L290.7,231.7 L290.5,231.3 L290.5,230.9 L290.3,229.3 L290.3,228.1 L290.4,227.3 L290.9,225.7 L290.9,225.3 L290.8,224.9 L290.3,223.7 L290.0,222.9Z" fill="#3e53a8" stroke="#484848" stroke-width="0.24" stroke-linejoin="round"/>
<line x1="300.8" x2="300.8" y1="212.8" y2="251.7" stroke="#444" stroke-width="0.26"/>
<path d="M300.6,221.6 L300.4,224.4 L300.1,227.2 L299.6,229.6 L298.7,234.0 L298.5,235.6 L298.8,236.8 L299.6,239.2 L300.0,240.8 L300.3,242.4 L300.6,244.4 L301.0,244.4 L301.3,242.4 L301.6,240.8 L302.1,239.2 L302.9,236.8 L303.1,235.6 L302.9,234.0 L302.0,229.6 L301.6,227.2 L301.2,224.4 L301.0,221.6Z" fill="#6479c1" stroke="#484848" stroke-width="0.24" stroke-linejoin="round"/>
<line x1="311.9" x2="311.9" y1="218.5" y2="250.5" stroke="#444" stroke-width="0.26"/>
<path d="M311.7,223.3 L311.2,228.5 L311.0,230.1 L310.7,231.3 L310.3,232.5 L310.0,233.3 L309.2,234.5 L308.2,235.7 L308.1,236.1 L309.6,237.7 L310.3,238.5 L310.7,239.3 L311.1,240.1 L311.3,240.9 L311.7,242.9 L312.1,242.9 L312.4,240.9 L312.7,240.1 L313.0,239.3 L313.5,238.5 L314.1,237.7 L315.6,236.1 L315.5,235.7 L314.6,234.5 L313.8,233.3 L313.4,232.5 L313.0,231.3 L312.8,230.1 L312.5,228.5 L312.1,223.3Z" fill="#8c9cd2" stroke="#484848" stroke-width="0.24" stroke-linejoin="round"/>
<line x1="323.0" x2="323.0" y1="212.8" y2="250.5" stroke="#444" stroke-width="0.26"/>
<path d="M322.7,223.2 L322.3,228.4 L321.8,231.2 L321.5,232.4 L321.2,233.2 L320.0,235.6 L319.9,236.0 L320.1,236.4 L321.3,238.4 L321.9,239.6 L322.4,241.2 L322.7,243.2 L323.2,243.2 L323.5,241.2 L324.0,239.6 L324.6,238.4 L325.8,236.4 L326.0,236.0 L325.9,235.6 L324.7,233.2 L324.4,232.4 L324.1,231.2 L323.6,228.4 L323.2,223.2Z" fill="#aebae1" stroke="#484848" stroke-width="0.24" stroke-linejoin="round"/>
<line x1="338.9" x2="338.9" y1="195.6" y2="251.5" stroke="#444" stroke-width="0.26"/>
<path d="M338.8,204.8 L338.5,212.0 L337.6,223.6 L337.5,227.6 L337.7,231.6 L338.5,241.6 L338.8,246.8 L339.1,246.8 L339.3,241.6 L340.1,231.6 L340.3,227.6 L340.2,223.6 L339.4,212.0 L339.1,204.8Z" fill="#5e6d2e" stroke="#484848" stroke-width="0.24" stroke-linejoin="round"/>
<line x1="350.0" x2="350.0" y1="191.0" y2="251.5" stroke="#444" stroke-width="0.26"/>
<path d="M349.8,202.6 L349.6,209.0 L348.9,221.0 L348.7,225.8 L348.8,229.4 L349.5,239.8 L349.8,246.2 L350.1,246.2 L350.4,239.8 L351.2,229.4 L351.3,225.8 L351.1,221.0 L350.4,209.0 L350.1,202.6Z" fill="#7d8956" stroke="#484848" stroke-width="0.24" stroke-linejoin="round"/>
<line x1="361.0" x2="361.0" y1="202.4" y2="256.0" stroke="#444" stroke-width="0.26"/>
<path d="M360.9,209.6 L360.7,216.0 L360.0,226.8 L359.9,230.8 L360.0,233.6 L360.6,240.8 L360.9,245.2 L361.2,245.2 L361.5,240.8 L362.1,233.6 L362.2,230.8 L362.1,226.8 L361.4,216.0 L361.2,209.6Z" fill="#9da97e" stroke="#484848" stroke-width="0.24" stroke-linejoin="round"/>
<line x1="372.1" x2="372.1" y1="200.1" y2="251.5" stroke="#444" stroke-width="0.26"/>
<path d="M372.0,210.9 L371.7,217.3 L371.1,228.1 L371.0,232.1 L371.1,234.5 L371.7,240.9 L372.0,244.9 L372.3,244.9 L372.5,240.9 L373.2,234.5 L373.3,232.1 L373.2,228.1 L372.5,217.3 L372.3,210.9Z" fill="#bcc5a3" stroke="#484848" stroke-width="0.24" stroke-linejoin="round"/>
<line x1="388.1" x2="388.1" y1="209.3" y2="251.5" stroke="#444" stroke-width="0.26"/>
<path d="M387.9,223.7 L387.7,225.3 L387.4,226.9 L386.3,230.9 L386.0,232.5 L385.8,233.7 L385.7,235.3 L385.7,236.5 L386.0,237.7 L387.4,241.3 L387.6,242.1 L387.8,243.3 L388.3,243.3 L388.6,242.1 L388.8,241.3 L390.2,237.7 L390.4,236.5 L390.5,235.3 L390.4,233.7 L390.2,232.5 L389.9,230.9 L388.8,226.9 L388.5,225.3 L388.3,223.7Z" fill="#8042ab" stroke="#484848" stroke-width="0.24" stroke-linejoin="round"/>
<line x1="399.2" x2="399.2" y1="209.3" y2="248.8" stroke="#444" stroke-width="0.26"/>
<path d="M399.0,221.7 L398.7,223.3 L398.5,224.5 L397.3,229.3 L397.1,230.5 L397.1,232.1 L397.1,233.7 L397.3,235.3 L398.5,240.9 L398.9,243.7 L399.4,243.7 L399.8,240.9 L401.0,235.3 L401.2,233.7 L401.3,232.1 L401.2,230.5 L401.0,229.3 L399.8,224.5 L399.6,223.3 L399.4,221.7Z" fill="#9c6bc3" stroke="#484848" stroke-width="0.24" stroke-linejoin="round"/>
<line x1="410.2" x2="410.2" y1="212.7" y2="252.7" stroke="#444" stroke-width="0.26"/>
<path d="M410.0,225.5 L409.6,227.9 L408.4,233.1 L408.2,234.3 L408.1,235.9 L408.2,237.5 L408.3,238.7 L408.7,240.3 L409.6,243.9 L410.0,246.7 L410.4,246.7 L410.9,243.9 L411.8,240.3 L412.1,238.7 L412.3,237.5 L412.3,235.9 L412.2,234.3 L412.1,233.1 L410.8,227.9 L410.5,225.5Z" fill="#b693d3" stroke="#484848" stroke-width="0.24" stroke-linejoin="round"/>
<line x1="421.3" x2="421.3" y1="211.6" y2="251.5" stroke="#444" stroke-width="0.26"/>
<path d="M421.1,226.0 L420.7,228.0 L419.7,231.6 L419.4,232.8 L419.2,234.4 L419.2,236.0 L419.3,238.0 L419.5,239.6 L420.7,244.4 L421.0,246.4 L421.5,246.4 L421.9,244.4 L423.1,239.6 L423.3,238.0 L423.4,236.0 L423.3,234.4 L423.1,232.8 L422.9,231.6 L421.9,228.0 L421.5,226.0Z" fill="#d1bae4" stroke="#484848" stroke-width="0.24" stroke-linejoin="round"/>
<text transform="translate(29.5,197.60) rotate(-90) scale(1.35,1)" font-size="3.7" fill="#444" text-anchor="middle" style="font-family:'Liberation Sans',sans-serif">2</text>
<text transform="translate(29.5,233.50) rotate(-90) scale(1.35,1)" font-size="3.7" fill="#444" text-anchor="middle" style="font-family:'Liberation Sans',sans-serif">0</text>
<text transform="translate(29.5,269.40) rotate(-90) scale(1.35,1)" font-size="3.7" fill="#444" text-anchor="middle" style="font-family:'Liberation Sans',sans-serif">−2</text>
<text transform="translate(22.9,224.40) rotate(-90)" font-size="5.20" font-weight="bold" fill="#1a1a1a" text-anchor="middle" style="font-family:'Liberation Sans',sans-serif">Module score</text>
<text transform="translate(232.5,166.70) scale(0.9,1)" font-size="5.5" font-weight="bold" fill="#1a1a1a" text-anchor="middle" style="font-family:'Liberation Sans',sans-serif">TH17</text>
<text x="60.50" y="283.90" font-size="4.15" fill="#262626" stroke="#262626" stroke-width="0.08" text-anchor="middle" style="font-family:'Liberation Sans',sans-serif">Macrophage</text>
<text x="109.67" y="283.90" font-size="4.15" fill="#262626" stroke="#262626" stroke-width="0.08" text-anchor="middle" style="font-family:'Liberation Sans',sans-serif">Monocyte</text>
<text x="158.84" y="283.90" font-size="4.15" fill="#262626" stroke="#262626" stroke-width="0.08" text-anchor="middle" style="font-family:'Liberation Sans',sans-serif">CD4+ T cell</text>
<text x="208.01" y="283.90" font-size="4.15" fill="#262626" stroke="#262626" stroke-width="0.08" text-anchor="middle" style="font-family:'Liberation Sans',sans-serif">CD8+ T cell</text>
<text x="257.18" y="283.90" font-size="4.15" fill="#262626" stroke="#262626" stroke-width="0.08" text-anchor="middle" style="font-family:'Liberation Sans',sans-serif">B cell</text>
<text x="306.35" y="283.90" font-size="4.15" fill="#262626" stroke="#262626" stroke-width="0.08" text-anchor="middle" style="font-family:'Liberation Sans',sans-serif">Basophils</text>
<text x="355.52" y="283.90" font-size="4.15" fill="#262626" stroke="#262626" stroke-width="0.08" text-anchor="middle" style="font-family:'Liberation Sans',sans-serif">NK/NKT cell</text>
<text x="404.69" y="283.90" font-size="4.15" fill="#262626" stroke="#262626" stroke-width="0.08" text-anchor="middle" style="font-family:'Liberation Sans',sans-serif">Mast cells</text>
<text x="232.4" y="289.80" font-size="5.0" font-weight="bold" fill="#1a1a1a" text-anchor="middle" style="font-family:'Liberation Sans',sans-serif">Cluster</text>
<text x="188.7" y="302.00" font-size="4.2" fill="#262626" style="font-family:'Liberation Sans',sans-serif">Time point</text>
<rect x="210.30" y="297.10" width="5.6" height="6" fill="#6b6b6b" stroke="#999" stroke-width="0.3"/>
<text x="218.20" y="302.00" font-size="4.0" font-weight="bold" fill="#1a1a1a" style="font-family:'Liberation Sans',sans-serif">wk5</text>
<rect x="227.40" y="297.10" width="5.6" height="6" fill="#8a8a8a" stroke="#999" stroke-width="0.3"/>
<text x="235.10" y="302.00" font-size="4.0" font-weight="bold" fill="#1a1a1a" style="font-family:'Liberation Sans',sans-serif">wk11</text>
<rect x="247.00" y="297.10" width="5.6" height="6" fill="#aaaaaa" stroke="#999" stroke-width="0.3"/>
<text x="254.80" y="302.00" font-size="4.0" font-weight="bold" fill="#1a1a1a" style="font-family:'Liberation Sans',sans-serif">wk13</text>
<rect x="266.30" y="297.10" width="5.6" height="6" fill="#cccccc" stroke="#999" stroke-width="0.3"/>
<text x="273.70" y="302.00" font-size="4.0" font-weight="bold" fill="#1a1a1a" style="font-family:'Liberation Sans',sans-serif">N</text>
<rect x="15.00" y="160.00" width="420.00" height="147.00" fill="none" stroke="#222" stroke-width="1.85"/>
<text transform="translate(0.90,165.80) scale(0.86,1)" font-size="10" fill="#111" stroke="#111" stroke-width="0.25" style="font-family:'Liberation Sans',sans-serif">B</text>
<defs><clipPath id="pc2"><rect x="31" y="327.50" width="403" height="115.90"/></clipPath></defs>
<g clip-path="url(#pc2)">
<line x1="31" x2="434" y1="414.20" y2="414.20" stroke="#f3f3f3" stroke-width="0.5"/>
<line x1="31" x2="434" y1="376.20" y2="376.20" stroke="#f3f3f3" stroke-width="0.5"/>
<line x1="31" x2="434" y1="338.20" y2="338.20" stroke="#f3f3f3" stroke-width="0.5"/>
<line x1="31" x2="434" y1="433.20" y2="433.20" stroke="#e6e6e6" stroke-width="0.55"/>
<line x1="31" x2="434" y1="395.20" y2="395.20" stroke="#e6e6e6" stroke-width="0.55"/>
<line x1="31" x2="434" y1="357.20" y2="357.20" stroke="#e6e6e6" stroke-width="0.55"/>
<line x1="60.50" x2="60.50" y1="327.50" y2="443.40" stroke="#e6e6e6" stroke-width="0.55"/>
<line x1="109.67" x2="109.67" y1="327.50" y2="443.40" stroke="#e6e6e6" stroke-width="0.55"/>
<line x1="158.84" x2="158.84" y1="327.50" y2="443.40" stroke="#e6e6e6" stroke-width="0.55"/>
<line x1="208.01" x2="208.01" y1="327.50" y2="443.40" stroke="#e6e6e6" stroke-width="0.55"/>
<line x1="257.18" x2="257.18" y1="327.50" y2="443.40" stroke="#e6e6e6" stroke-width="0.55"/>
<line x1="306.35" x2="306.35" y1="327.50" y2="443.40" stroke="#e6e6e6" stroke-width="0.55"/>
<line x1="355.52" x2="355.52" y1="327.50" y2="443.40" stroke="#e6e6e6" stroke-width="0.55"/>
<line x1="404.69" x2="404.69" y1="327.50" y2="443.40" stroke="#e6e6e6" stroke-width="0.55"/>
</g>
<line x1="43.9" x2="43.9" y1="382.4" y2="413.5" stroke="#444" stroke-width="0.26"/>
<path d="M43.8,387.6 L43.5,388.8 L43.0,390.0 L42.5,390.8 L40.8,393.2 L40.3,394.0 L40.0,394.8 L39.7,395.6 L39.6,396.4 L39.5,397.6 L39.5,399.2 L39.6,401.2 L39.7,402.0 L40.0,402.8 L40.8,404.0 L42.5,406.0 L43.0,406.8 L43.5,407.6 L43.8,408.8 L44.0,408.8 L44.3,407.6 L44.8,406.8 L45.3,406.0 L47.0,404.0 L47.8,402.8 L48.1,402.0 L48.2,401.2 L48.3,399.2 L48.3,397.6 L48.2,396.4 L48.1,395.6 L47.8,394.8 L47.5,394.0 L47.0,393.2 L45.3,390.8 L44.8,390.0 L44.3,388.8 L44.0,387.6Z" fill="#f22626" stroke="#484848" stroke-width="0.24" stroke-linejoin="round"/>
<line x1="55.0" x2="55.0" y1="369.4" y2="415.3" stroke="#444" stroke-width="0.26"/>
<path d="M54.9,381.8 L54.6,385.4 L54.1,388.2 L53.5,390.6 L51.6,395.8 L51.3,397.4 L51.2,398.6 L51.3,399.4 L51.6,400.2 L53.5,403.8 L54.2,405.4 L54.4,406.2 L54.7,407.4 L54.9,409.4 L55.1,409.4 L55.3,407.4 L55.5,406.2 L55.7,405.4 L56.4,403.8 L58.4,400.2 L58.7,399.4 L58.8,398.6 L58.7,397.4 L58.3,395.8 L56.5,390.6 L55.8,388.2 L55.3,385.4 L55.1,381.8Z" fill="#ea5560" stroke="#484848" stroke-width="0.24" stroke-linejoin="round"/>
<line x1="66.0" x2="66.0" y1="367.4" y2="413.5" stroke="#444" stroke-width="0.26"/>
<path d="M65.9,379.4 L65.7,382.6 L65.5,384.2 L65.2,385.4 L64.5,387.8 L62.7,392.2 L62.4,393.4 L62.2,394.6 L62.3,395.4 L62.6,396.6 L63.1,397.8 L64.5,400.6 L65.3,402.6 L65.7,404.6 L65.9,407.0 L66.1,407.0 L66.4,404.6 L66.8,402.6 L67.5,400.6 L68.9,397.8 L69.4,396.6 L69.8,395.4 L69.8,394.6 L69.7,393.4 L69.3,392.2 L67.6,387.8 L66.9,385.4 L66.6,384.2 L66.4,382.6 L66.1,379.4Z" fill="#ee7e86" stroke="#484848" stroke-width="0.24" stroke-linejoin="round"/>
<line x1="77.1" x2="77.1" y1="363.7" y2="412.3" stroke="#444" stroke-width="0.26"/>
<path d="M77.0,386.5 L76.9,388.1 L76.7,389.3 L76.4,390.5 L76.0,391.7 L75.6,392.5 L74.9,393.7 L72.2,397.7 L71.7,398.9 L71.5,399.7 L71.6,400.1 L71.8,400.5 L72.1,400.9 L75.1,403.3 L75.8,404.1 L76.1,404.5 L76.4,404.9 L76.7,405.7 L76.9,406.5 L77.0,407.3 L77.2,407.3 L77.3,406.5 L77.5,405.7 L77.8,404.9 L78.1,404.5 L78.4,404.1 L79.1,403.3 L82.1,400.9 L82.4,400.5 L82.6,400.1 L82.7,399.7 L82.5,398.9 L82.0,397.7 L79.3,393.7 L78.6,392.5 L78.2,391.7 L77.8,390.5 L77.5,389.3 L77.3,388.1 L77.2,386.5Z" fill="#f3a8ae" stroke="#484848" stroke-width="0.24" stroke-linejoin="round"/>
<line x1="93.1" x2="93.1" y1="361.2" y2="412.3" stroke="#444" stroke-width="0.26"/>
<path d="M93.0,381.6 L92.7,385.2 L92.3,388.0 L91.6,390.8 L89.9,396.0 L89.6,397.2 L89.5,398.4 L89.6,399.2 L89.9,400.0 L91.6,402.8 L92.3,404.4 L92.8,406.0 L93.0,407.6 L93.2,407.6 L93.4,406.0 L93.8,404.4 L94.6,402.8 L96.3,400.0 L96.6,399.2 L96.7,398.4 L96.5,397.2 L96.3,396.0 L94.6,390.8 L93.8,388.0 L93.4,385.2 L93.2,381.6Z" fill="#4a86cc" stroke="#484848" stroke-width="0.24" stroke-linejoin="round"/>
<line x1="104.1" x2="104.1" y1="359.9" y2="413.5" stroke="#444" stroke-width="0.26"/>
<path d="M104.1,378.7 L103.8,382.3 L103.5,385.1 L102.9,387.9 L101.4,393.1 L101.0,394.7 L100.9,395.9 L101.0,397.1 L101.3,398.3 L102.8,402.7 L103.5,405.1 L103.9,407.5 L104.1,410.3 L104.2,410.3 L104.4,407.5 L104.8,405.1 L105.5,402.7 L107.0,398.3 L107.3,397.1 L107.3,395.9 L107.2,394.7 L106.9,393.1 L105.4,387.9 L104.8,385.1 L104.4,382.3 L104.2,378.7Z" fill="#6a9ad6" stroke="#484848" stroke-width="0.24" stroke-linejoin="round"/>
<line x1="115.2" x2="115.2" y1="355.4" y2="411.0" stroke="#444" stroke-width="0.26"/>
<path d="M115.1,377.0 L114.9,380.2 L114.5,382.6 L113.8,385.0 L112.0,389.8 L111.7,391.0 L111.6,392.2 L111.7,393.4 L112.0,394.6 L112.4,395.8 L113.8,399.8 L114.5,402.2 L114.9,404.6 L115.1,407.8 L115.3,407.8 L115.5,404.6 L115.9,402.2 L116.6,399.8 L118.0,395.8 L118.4,394.6 L118.7,393.4 L118.8,392.2 L118.7,391.0 L118.4,389.8 L116.6,385.0 L115.9,382.6 L115.5,380.2 L115.3,377.0Z" fill="#94b8e2" stroke="#484848" stroke-width="0.24" stroke-linejoin="round"/>
<line x1="126.3" x2="126.3" y1="357.4" y2="412.3" stroke="#444" stroke-width="0.26"/>
<path d="M126.2,385.0 L126.1,386.6 L125.9,387.8 L125.6,389.0 L125.2,390.2 L124.7,391.4 L124.0,392.6 L122.1,395.4 L121.3,396.6 L120.8,397.8 L120.7,398.6 L120.8,399.0 L121.0,399.4 L121.4,399.8 L123.9,401.8 L125.1,403.0 L125.4,403.4 L125.8,404.2 L126.0,405.0 L126.2,405.8 L126.4,405.8 L126.5,405.0 L126.8,404.2 L127.2,403.4 L127.5,403.0 L128.6,401.8 L131.1,399.8 L131.5,399.4 L131.8,399.0 L131.9,398.6 L131.7,397.8 L131.2,396.6 L130.5,395.4 L128.5,392.6 L127.8,391.4 L127.3,390.2 L126.9,389.0 L126.6,387.8 L126.5,386.6 L126.4,385.0Z" fill="#bcd4ee" stroke="#484848" stroke-width="0.24" stroke-linejoin="round"/>
<line x1="142.2" x2="142.2" y1="371.1" y2="406.0" stroke="#444" stroke-width="0.26"/>
<path d="M142.2,373.5 L141.9,381.9 L141.8,384.3 L141.6,385.5 L141.4,386.3 L141.1,387.1 L140.5,387.9 L139.3,389.5 L139.0,389.9 L138.9,390.3 L138.9,390.7 L139.0,391.1 L139.2,391.5 L140.0,392.7 L140.4,393.5 L140.5,393.9 L140.4,394.3 L140.2,394.7 L139.9,395.1 L138.2,396.7 L138.0,397.1 L137.9,397.5 L138.0,397.9 L138.3,398.3 L140.4,399.9 L140.9,400.3 L141.5,401.1 L141.8,401.9 L142.0,402.7 L142.1,406.0 L142.3,406.0 L142.5,402.7 L142.7,401.9 L143.0,401.1 L143.6,400.3 L144.1,399.9 L146.1,398.3 L146.5,397.9 L146.6,397.5 L146.5,397.1 L146.3,396.7 L144.6,395.1 L144.3,394.7 L144.1,394.3 L144.0,393.9 L144.1,393.5 L144.5,392.7 L145.3,391.5 L145.5,391.1 L145.6,390.7 L145.6,390.3 L145.4,389.9 L145.2,389.5 L144.0,387.9 L143.4,387.1 L143.1,386.3 L142.9,385.5 L142.7,384.3 L142.6,381.9 L142.3,373.5Z" fill="#f0e02a" stroke="#484848" stroke-width="0.24" stroke-linejoin="round"/>
<line x1="153.3" x2="153.3" y1="367.4" y2="407.3" stroke="#444" stroke-width="0.26"/>
<path d="M153.2,372.6 L153.1,378.2 L152.9,381.8 L152.7,382.6 L152.1,384.2 L151.9,385.0 L152.0,385.8 L152.4,387.0 L152.3,387.8 L152.2,388.2 L151.7,389.0 L150.1,390.6 L149.9,391.0 L149.8,391.4 L150.0,391.8 L150.2,392.2 L151.3,393.4 L151.6,393.8 L151.7,394.2 L151.7,394.6 L151.6,395.0 L151.3,395.4 L150.1,396.6 L149.8,397.0 L149.7,397.4 L149.8,397.8 L150.0,398.2 L151.9,399.8 L152.2,400.2 L152.7,401.0 L152.9,401.8 L153.0,402.6 L153.2,407.0 L153.4,407.0 L153.6,402.6 L153.7,401.8 L153.9,401.0 L154.4,400.2 L154.8,399.8 L156.6,398.2 L156.8,397.8 L156.9,397.4 L156.8,397.0 L156.5,396.6 L155.3,395.4 L155.0,395.0 L154.9,394.6 L154.9,394.2 L155.0,393.8 L155.3,393.4 L156.4,392.2 L156.7,391.8 L156.8,391.4 L156.7,391.0 L156.5,390.6 L154.9,389.0 L154.4,388.2 L154.3,387.8 L154.3,387.0 L154.6,385.8 L154.7,385.0 L154.5,384.2 L153.9,382.6 L153.7,381.8 L153.5,378.2 L153.4,372.6Z" fill="#f0e556" stroke="#484848" stroke-width="0.24" stroke-linejoin="round"/>
<line x1="164.4" x2="164.4" y1="366.1" y2="406.0" stroke="#444" stroke-width="0.26"/>
<path d="M164.3,372.5 L164.0,381.3 L163.9,382.5 L163.2,384.5 L163.1,384.9 L163.1,385.3 L163.3,386.9 L163.1,387.7 L162.8,388.1 L161.7,389.7 L161.5,390.1 L161.4,390.5 L161.5,390.9 L161.6,391.3 L162.7,392.9 L162.9,393.3 L163.0,393.7 L163.0,394.1 L163.0,394.5 L162.8,394.9 L162.5,395.3 L161.4,396.5 L161.1,396.9 L161.0,397.3 L161.0,397.7 L161.2,398.1 L161.5,398.5 L163.2,400.1 L163.5,400.5 L163.8,401.3 L164.0,402.1 L164.1,402.9 L164.3,406.0 L164.5,406.0 L164.6,402.9 L164.7,402.1 L164.9,401.3 L165.3,400.5 L165.6,400.1 L167.2,398.5 L167.6,398.1 L167.7,397.7 L167.8,397.3 L167.6,396.9 L167.4,396.5 L166.3,395.3 L166.0,394.9 L165.8,394.5 L165.7,394.1 L165.7,393.7 L165.8,393.3 L166.0,392.9 L167.1,391.3 L167.3,390.9 L167.3,390.5 L167.3,390.1 L167.1,389.7 L165.9,388.1 L165.7,387.7 L165.5,386.9 L165.6,385.3 L165.6,384.9 L165.5,384.5 L164.9,382.5 L164.7,381.3 L164.5,372.5Z" fill="#f2ea88" stroke="#484848" stroke-width="0.24" stroke-linejoin="round"/>
<line x1="175.4" x2="175.4" y1="364.9" y2="406.0" stroke="#444" stroke-width="0.26"/>
<path d="M175.4,372.5 L175.2,378.1 L175.0,381.7 L174.8,382.9 L174.2,384.1 L173.9,384.9 L173.9,385.3 L174.3,386.5 L174.3,386.9 L174.4,387.3 L174.3,387.7 L174.0,388.1 L173.7,388.5 L172.5,389.7 L172.2,390.1 L172.0,390.5 L172.0,390.9 L172.2,391.3 L172.5,391.7 L173.6,392.9 L173.9,393.3 L174.1,393.7 L174.2,394.1 L174.1,394.5 L174.0,394.9 L173.7,395.3 L172.6,396.5 L172.4,396.9 L172.2,397.3 L172.3,397.7 L172.5,398.1 L172.8,398.5 L174.4,400.1 L174.8,400.9 L175.1,401.7 L175.2,402.5 L175.3,406.0 L175.6,406.0 L175.7,402.5 L175.8,401.7 L176.0,400.9 L176.5,400.1 L178.1,398.5 L178.4,398.1 L178.6,397.7 L178.6,397.3 L178.5,396.9 L178.2,396.5 L177.2,395.3 L176.9,394.9 L176.8,394.5 L176.7,394.1 L176.8,393.7 L177.0,393.3 L177.3,392.9 L178.4,391.7 L178.7,391.3 L178.9,390.9 L178.9,390.5 L178.7,390.1 L178.4,389.7 L177.2,388.5 L176.8,388.1 L176.6,387.7 L176.5,387.3 L176.5,386.9 L176.6,386.5 L177.0,385.3 L177.0,384.9 L176.7,384.1 L176.1,382.9 L175.9,381.7 L175.7,378.1 L175.5,372.5Z" fill="#f5f0b2" stroke="#484848" stroke-width="0.24" stroke-linejoin="round"/>
<line x1="191.4" x2="191.4" y1="366.6" y2="408.0" stroke="#444" stroke-width="0.26"/>
<path d="M191.3,371.8 L191.1,375.4 L190.8,378.6 L190.2,381.4 L188.8,387.0 L188.5,388.6 L188.4,389.8 L188.5,391.0 L188.7,392.2 L190.1,397.4 L190.7,400.2 L191.1,403.0 L191.3,406.6 L191.5,406.6 L191.7,403.0 L192.1,400.2 L192.7,397.4 L194.1,392.2 L194.3,391.0 L194.4,389.8 L194.3,388.6 L194.1,387.0 L192.6,381.4 L192.1,378.6 L191.7,375.4 L191.5,371.8Z" fill="#2c7a3c" stroke="#484848" stroke-width="0.24" stroke-linejoin="round"/>
<line x1="202.5" x2="202.5" y1="356.6" y2="410.6" stroke="#444" stroke-width="0.26"/>
<path d="M202.4,367.4 L202.1,375.8 L201.8,382.6 L201.6,384.2 L201.3,385.4 L200.9,386.2 L200.2,387.4 L200.1,387.8 L200.0,388.6 L200.2,389.8 L200.2,390.2 L200.1,390.6 L199.9,391.0 L199.1,392.2 L199.0,392.6 L198.9,393.0 L199.0,393.4 L199.3,393.8 L201.1,395.8 L201.4,396.2 L201.8,397.0 L201.9,397.8 L202.1,399.4 L202.4,404.2 L202.6,404.2 L202.8,399.4 L203.0,397.8 L203.2,397.0 L203.6,396.2 L203.8,395.8 L205.7,393.8 L205.9,393.4 L206.0,393.0 L206.0,392.6 L205.8,392.2 L205.1,391.0 L204.9,390.6 L204.8,390.2 L204.8,389.8 L205.0,388.6 L204.9,387.8 L204.7,387.4 L204.0,386.2 L203.6,385.4 L203.3,384.2 L203.2,382.6 L202.8,375.8 L202.6,367.4Z" fill="#55905f" stroke="#484848" stroke-width="0.24" stroke-linejoin="round"/>
<line x1="213.5" x2="213.5" y1="360.0" y2="407.3" stroke="#444" stroke-width="0.26"/>
<path d="M213.5,370.8 L213.2,378.4 L213.0,382.0 L212.8,383.6 L212.6,384.4 L212.2,385.2 L211.2,386.8 L210.7,387.6 L210.6,388.0 L210.6,388.4 L210.6,388.8 L211.1,390.0 L211.2,390.8 L211.2,391.6 L210.8,392.8 L210.8,393.2 L210.8,393.6 L211.2,394.4 L212.0,395.6 L212.5,396.4 L212.8,397.2 L212.9,398.0 L213.2,401.6 L213.5,406.4 L213.6,406.4 L213.8,401.6 L214.2,398.0 L214.3,397.2 L214.6,396.4 L215.1,395.6 L215.9,394.4 L216.3,393.6 L216.3,393.2 L216.3,392.8 L215.9,391.6 L215.8,390.8 L216.0,390.0 L216.4,388.8 L216.5,388.4 L216.5,388.0 L216.4,387.6 L215.9,386.8 L214.8,385.2 L214.5,384.4 L214.3,383.6 L214.1,382.0 L213.9,378.4 L213.6,370.8Z" fill="#7fac88" stroke="#484848" stroke-width="0.24" stroke-linejoin="round"/>
<line x1="224.6" x2="224.6" y1="360.8" y2="409.8" stroke="#444" stroke-width="0.26"/>
<path d="M224.5,368.0 L224.3,376.0 L224.0,381.2 L223.9,382.8 L223.6,384.0 L222.7,385.6 L222.5,386.0 L222.4,386.4 L222.4,386.8 L222.8,388.4 L222.9,388.8 L222.8,389.2 L222.6,389.6 L221.8,390.8 L221.6,391.2 L221.6,391.6 L221.7,392.0 L221.9,392.4 L223.1,394.0 L223.3,394.4 L223.6,395.2 L223.6,396.0 L223.5,396.4 L223.4,396.8 L222.6,398.4 L222.5,398.8 L222.5,399.2 L222.6,399.6 L223.7,401.2 L223.9,401.6 L224.1,402.4 L224.3,404.4 L224.5,409.8 L224.7,409.8 L224.9,404.4 L225.1,402.4 L225.3,401.6 L225.5,401.2 L226.6,399.6 L226.7,399.2 L226.8,398.8 L226.7,398.4 L225.9,396.8 L225.7,396.4 L225.7,396.0 L225.7,395.2 L225.9,394.4 L226.1,394.0 L227.3,392.4 L227.5,392.0 L227.6,391.6 L227.6,391.2 L227.4,390.8 L226.7,389.6 L226.5,389.2 L226.4,388.8 L226.4,388.4 L226.9,386.8 L226.9,386.4 L226.8,386.0 L226.6,385.6 L225.6,384.0 L225.3,382.8 L225.2,381.2 L224.9,376.0 L224.7,368.0Z" fill="#a4c6aa" stroke="#484848" stroke-width="0.24" stroke-linejoin="round"/>
<line x1="240.6" x2="240.6" y1="374.9" y2="409.8" stroke="#444" stroke-width="0.26"/>
<path d="M240.5,382.9 L240.3,384.9 L240.0,386.1 L239.8,386.9 L239.1,388.5 L237.5,391.3 L237.1,392.1 L236.9,392.9 L236.8,393.7 L236.9,394.5 L237.2,395.7 L239.1,400.1 L239.8,402.1 L240.0,403.3 L240.2,404.5 L240.5,407.3 L240.7,407.3 L240.9,404.5 L241.1,403.3 L241.4,402.1 L242.1,400.1 L244.0,395.7 L244.3,394.5 L244.4,393.7 L244.3,392.9 L244.0,392.1 L243.6,391.3 L242.1,388.5 L241.4,386.9 L241.1,386.1 L240.9,384.9 L240.7,382.9Z" fill="#70d4da" stroke="#484848" stroke-width="0.24" stroke-linejoin="round"/>
<line x1="251.7" x2="251.7" y1="374.4" y2="413.5" stroke="#444" stroke-width="0.26"/>
<path d="M251.6,382.8 L251.4,384.8 L250.9,386.8 L250.2,388.8 L248.9,391.2 L248.4,392.4 L248.1,393.2 L248.1,394.0 L248.2,395.2 L248.4,396.4 L248.8,397.6 L250.3,402.0 L250.9,404.4 L251.3,407.2 L251.6,410.4 L251.7,410.4 L252.0,407.2 L252.4,404.4 L253.0,402.0 L254.5,397.6 L254.9,396.4 L255.1,395.2 L255.2,394.0 L255.2,393.2 L254.9,392.4 L254.4,391.2 L253.1,388.8 L252.4,386.8 L251.9,384.8 L251.7,382.8Z" fill="#8cdde2" stroke="#484848" stroke-width="0.24" stroke-linejoin="round"/>
<line x1="262.7" x2="262.7" y1="367.4" y2="411.0" stroke="#444" stroke-width="0.26"/>
<path d="M262.6,378.2 L262.4,381.4 L261.9,383.8 L261.2,386.2 L259.5,390.6 L259.2,391.8 L259.1,393.0 L259.2,394.2 L259.6,395.4 L261.2,399.8 L262.0,402.2 L262.4,404.6 L262.6,407.8 L262.8,407.8 L263.0,404.6 L263.5,402.2 L264.2,399.8 L265.9,395.4 L266.2,394.2 L266.3,393.0 L266.2,391.8 L265.9,390.6 L264.2,386.2 L263.5,383.8 L263.0,381.4 L262.8,378.2Z" fill="#aae6e9" stroke="#484848" stroke-width="0.24" stroke-linejoin="round"/>
<line x1="273.8" x2="273.8" y1="372.4" y2="411.0" stroke="#444" stroke-width="0.26"/>
<path d="M273.7,382.8 L273.5,384.8 L273.2,386.0 L273.0,386.8 L272.3,388.4 L270.9,390.8 L270.5,391.6 L270.3,392.4 L270.2,393.2 L270.3,394.4 L270.7,395.6 L272.2,399.6 L273.0,402.0 L273.4,404.4 L273.7,407.6 L273.9,407.6 L274.1,404.4 L274.6,402.0 L275.3,399.6 L276.9,395.6 L277.2,394.4 L277.4,393.2 L277.3,392.4 L277.0,391.6 L276.7,390.8 L275.3,388.4 L274.6,386.8 L274.3,386.0 L274.1,384.8 L273.9,382.8Z" fill="#c8f0f1" stroke="#484848" stroke-width="0.24" stroke-linejoin="round"/>
<line x1="289.8" x2="289.8" y1="378.4" y2="420.5" stroke="#444" stroke-width="0.26"/>
<path d="M289.7,386.0 L289.4,388.0 L289.2,389.2 L288.9,390.0 L288.2,391.6 L286.7,394.4 L286.4,395.2 L286.3,396.0 L286.3,396.4 L286.5,397.2 L286.9,398.0 L288.5,400.4 L289.0,401.6 L289.2,402.4 L289.2,403.6 L289.0,404.4 L288.4,405.6 L287.0,408.0 L286.8,408.8 L286.8,409.2 L286.8,410.0 L287.1,410.8 L288.6,413.2 L289.2,414.4 L289.5,415.6 L289.7,416.8 L289.8,416.8 L290.0,415.6 L290.3,414.4 L290.9,413.2 L292.4,410.8 L292.7,410.0 L292.7,409.2 L292.7,408.8 L292.5,408.0 L291.1,405.6 L290.5,404.4 L290.3,403.6 L290.3,402.4 L290.5,401.6 L291.0,400.4 L292.6,398.0 L293.0,397.2 L293.2,396.4 L293.2,396.0 L293.1,395.2 L292.8,394.4 L291.3,391.6 L290.6,390.0 L290.3,389.2 L290.1,388.0 L289.8,386.0Z" fill="#3e53a8" stroke="#484848" stroke-width="0.24" stroke-linejoin="round"/>
<line x1="300.8" x2="300.8" y1="375.6" y2="422.4" stroke="#444" stroke-width="0.26"/>
<path d="M300.7,384.8 L300.5,388.8 L300.2,391.6 L299.8,394.0 L298.7,398.0 L298.5,399.6 L298.6,400.4 L298.7,400.8 L299.6,402.8 L299.7,403.6 L299.7,404.0 L299.7,404.4 L299.4,405.2 L298.1,408.0 L297.9,408.8 L297.8,409.6 L297.9,410.4 L298.2,411.2 L299.7,414.0 L300.2,415.2 L300.5,416.4 L300.7,418.0 L300.9,418.0 L301.1,416.4 L301.4,415.2 L301.9,414.0 L303.4,411.2 L303.7,410.4 L303.8,409.6 L303.8,408.8 L303.5,408.0 L302.2,405.2 L302.0,404.4 L301.9,404.0 L301.9,403.6 L302.1,402.8 L302.9,400.8 L303.1,400.4 L303.1,399.6 L302.9,398.0 L301.9,394.0 L301.4,391.6 L301.1,388.8 L300.9,384.8Z" fill="#6479c1" stroke="#484848" stroke-width="0.24" stroke-linejoin="round"/>
<line x1="311.9" x2="311.9" y1="372.8" y2="423.3" stroke="#444" stroke-width="0.26"/>
<path d="M311.8,385.6 L311.6,388.0 L311.2,390.0 L310.6,391.6 L309.1,395.2 L308.7,396.4 L308.7,397.2 L308.7,397.6 L309.0,398.4 L310.7,401.6 L311.0,402.4 L311.2,403.2 L311.2,404.0 L311.2,404.8 L311.1,406.0 L310.6,408.8 L310.5,410.4 L310.7,412.0 L311.5,416.0 L311.8,418.4 L312.0,418.4 L312.2,416.0 L313.1,412.0 L313.3,410.4 L313.2,408.8 L312.7,406.0 L312.5,404.8 L312.5,404.0 L312.6,403.2 L312.8,402.4 L313.1,401.6 L314.8,398.4 L315.0,397.6 L315.1,397.2 L315.0,396.4 L314.7,395.2 L313.1,391.6 L312.6,390.0 L312.2,388.0 L312.0,385.6Z" fill="#8c9cd2" stroke="#484848" stroke-width="0.24" stroke-linejoin="round"/>
<line x1="323.0" x2="323.0" y1="375.6" y2="424.3" stroke="#444" stroke-width="0.26"/>
<path d="M322.9,386.8 L322.7,388.8 L322.4,390.4 L321.8,392.0 L320.3,395.6 L320.1,396.4 L320.1,397.2 L320.1,397.6 L320.3,398.4 L321.5,400.8 L322.0,402.0 L322.2,402.8 L322.3,403.6 L322.4,404.4 L322.3,405.6 L321.7,409.2 L321.6,410.4 L321.6,411.2 L321.8,413.2 L322.6,417.6 L322.9,420.0 L323.0,420.0 L323.3,417.6 L324.1,413.2 L324.3,411.2 L324.3,410.4 L324.2,409.2 L323.6,405.6 L323.5,404.4 L323.6,403.6 L323.7,402.8 L323.9,402.0 L324.4,400.8 L325.6,398.4 L325.8,397.6 L325.8,397.2 L325.8,396.4 L325.6,395.6 L324.1,392.0 L323.5,390.4 L323.2,388.8 L323.0,386.8Z" fill="#aebae1" stroke="#484848" stroke-width="0.24" stroke-linejoin="round"/>
<line x1="338.9" x2="338.9" y1="372.4" y2="409.8" stroke="#444" stroke-width="0.26"/>
<path d="M338.8,377.2 L338.6,381.2 L338.4,383.2 L338.1,384.8 L337.4,388.0 L335.7,394.0 L335.4,395.6 L335.2,397.2 L335.3,398.0 L335.7,398.8 L337.4,401.6 L338.2,403.2 L338.6,404.8 L338.8,406.4 L339.0,406.4 L339.2,404.8 L339.7,403.2 L340.4,401.6 L342.2,398.8 L342.5,398.0 L342.6,397.2 L342.5,395.6 L342.2,394.0 L340.4,388.0 L339.7,384.8 L339.4,383.2 L339.2,381.2 L339.0,377.2Z" fill="#5e6d2e" stroke="#484848" stroke-width="0.24" stroke-linejoin="round"/>
<line x1="350.0" x2="350.0" y1="372.4" y2="411.0" stroke="#444" stroke-width="0.26"/>
<path d="M349.9,381.6 L349.7,383.6 L349.2,385.6 L348.7,387.2 L347.2,390.4 L346.9,391.6 L346.8,392.4 L346.9,393.6 L347.2,394.8 L348.7,399.6 L349.3,402.0 L349.7,404.8 L349.9,408.0 L350.1,408.0 L350.3,404.8 L350.7,402.0 L351.3,399.6 L352.8,394.8 L353.1,393.6 L353.2,392.4 L353.1,391.6 L352.8,390.4 L351.3,387.2 L350.7,385.6 L350.3,383.6 L350.1,381.6Z" fill="#7d8956" stroke="#484848" stroke-width="0.24" stroke-linejoin="round"/>
<line x1="361.0" x2="361.0" y1="369.4" y2="407.3" stroke="#444" stroke-width="0.26"/>
<path d="M361.0,378.2 L360.8,381.0 L360.4,383.4 L359.8,385.4 L358.2,390.2 L357.9,391.4 L357.9,392.2 L357.9,393.4 L358.2,394.6 L358.5,395.8 L359.8,399.8 L360.4,402.2 L360.7,404.6 L360.9,407.3 L361.2,407.3 L361.4,404.6 L361.7,402.2 L362.3,399.8 L363.6,395.8 L363.9,394.6 L364.2,393.4 L364.2,392.2 L364.2,391.4 L363.9,390.2 L362.3,385.4 L361.7,383.4 L361.3,381.0 L361.1,378.2Z" fill="#9da97e" stroke="#484848" stroke-width="0.24" stroke-linejoin="round"/>
<line x1="372.1" x2="372.1" y1="366.1" y2="412.3" stroke="#444" stroke-width="0.26"/>
<path d="M372.0,377.7 L371.8,380.9 L371.5,383.7 L370.9,386.1 L369.5,391.3 L369.2,392.9 L369.1,394.1 L369.2,394.9 L369.4,396.1 L370.9,400.5 L371.4,402.5 L371.8,404.9 L372.0,407.7 L372.2,407.7 L372.4,404.9 L372.8,402.5 L373.3,400.5 L374.8,396.1 L375.1,394.9 L375.1,394.1 L375.0,392.9 L374.8,391.3 L373.3,386.1 L372.8,383.7 L372.4,380.9 L372.2,377.7Z" fill="#bcc5a3" stroke="#484848" stroke-width="0.24" stroke-linejoin="round"/>
<line x1="388.1" x2="388.1" y1="374.9" y2="411.0" stroke="#444" stroke-width="0.26"/>
<path d="M388.0,377.3 L387.8,381.3 L387.5,383.3 L387.3,384.9 L386.6,388.1 L384.8,394.1 L384.5,395.7 L384.4,397.3 L384.5,398.1 L384.8,398.9 L386.7,402.5 L387.3,404.1 L387.6,404.9 L387.8,406.1 L388.0,408.1 L388.2,408.1 L388.4,406.1 L388.6,404.9 L388.8,404.1 L389.5,402.5 L391.4,398.9 L391.7,398.1 L391.8,397.3 L391.7,395.7 L391.4,394.1 L389.6,388.1 L388.9,384.9 L388.6,383.3 L388.4,381.3 L388.2,377.3Z" fill="#8042ab" stroke="#484848" stroke-width="0.24" stroke-linejoin="round"/>
<line x1="399.2" x2="399.2" y1="371.1" y2="411.0" stroke="#444" stroke-width="0.26"/>
<path d="M399.1,375.1 L398.9,378.7 L398.5,381.5 L398.0,383.9 L396.5,389.5 L396.2,391.1 L396.2,392.3 L396.2,393.5 L396.5,394.7 L398.0,399.9 L398.5,402.3 L398.8,404.7 L399.1,407.9 L399.3,407.9 L399.5,404.7 L399.8,402.3 L400.4,399.9 L401.9,394.7 L402.1,393.5 L402.2,392.3 L402.1,391.1 L401.8,389.5 L400.3,383.9 L399.8,381.5 L399.5,378.7 L399.2,375.1Z" fill="#9c6bc3" stroke="#484848" stroke-width="0.24" stroke-linejoin="round"/>
<line x1="410.2" x2="410.2" y1="371.1" y2="409.8" stroke="#444" stroke-width="0.26"/>
<path d="M410.1,374.7 L409.9,378.3 L409.6,381.5 L409.0,384.3 L407.6,389.9 L407.3,391.5 L407.2,393.1 L407.3,394.3 L407.6,395.5 L408.9,399.9 L409.5,402.3 L409.9,404.7 L410.1,407.9 L410.3,407.9 L410.5,404.7 L410.9,402.3 L411.5,399.9 L412.9,395.5 L413.1,394.3 L413.2,393.1 L413.1,391.5 L412.8,389.9 L411.4,384.3 L410.9,381.5 L410.5,378.3 L410.3,374.7Z" fill="#b693d3" stroke="#484848" stroke-width="0.24" stroke-linejoin="round"/>
<line x1="421.3" x2="421.3" y1="366.9" y2="411.0" stroke="#444" stroke-width="0.26"/>
<path d="M421.2,374.5 L421.0,378.5 L420.6,381.7 L420.1,384.5 L418.6,390.9 L418.4,392.5 L418.3,394.1 L418.4,395.3 L418.7,396.9 L420.1,402.1 L420.6,404.5 L421.0,407.3 L421.2,410.9 L421.4,410.9 L421.6,407.3 L422.0,404.5 L422.5,402.1 L423.9,396.9 L424.2,395.3 L424.3,394.1 L424.2,392.5 L424.0,390.9 L422.5,384.5 L421.9,381.7 L421.6,378.5 L421.4,374.5Z" fill="#d1bae4" stroke="#484848" stroke-width="0.24" stroke-linejoin="round"/>
<text transform="translate(29.5,357.20) rotate(-90) scale(1.35,1)" font-size="3.7" fill="#444" text-anchor="middle" style="font-family:'Liberation Sans',sans-serif">2</text>
<text transform="translate(29.5,395.20) rotate(-90) scale(1.35,1)" font-size="3.7" fill="#444" text-anchor="middle" style="font-family:'Liberation Sans',sans-serif">0</text>
<text transform="translate(29.5,433.20) rotate(-90) scale(1.35,1)" font-size="3.7" fill="#444" text-anchor="middle" style="font-family:'Liberation Sans',sans-serif">−2</text>
<text transform="translate(22.9,386.00) rotate(-90)" font-size="5.50" font-weight="bold" fill="#1a1a1a" text-anchor="middle" style="font-family:'Liberation Sans',sans-serif">Module score</text>
<text transform="translate(232.5,324.00) scale(0.9,1)" font-size="5.5" font-weight="bold" fill="#1a1a1a" text-anchor="middle" style="font-family:'Liberation Sans',sans-serif">Immune</text>
<text x="60.50" y="449.80" font-size="4.15" fill="#262626" stroke="#262626" stroke-width="0.08" text-anchor="middle" style="font-family:'Liberation Sans',sans-serif">Macrophage</text>
<text x="109.67" y="449.80" font-size="4.15" fill="#262626" stroke="#262626" stroke-width="0.08" text-anchor="middle" style="font-family:'Liberation Sans',sans-serif">Monocyte</text>
<text x="158.84" y="449.80" font-size="4.15" fill="#262626" stroke="#262626" stroke-width="0.08" text-anchor="middle" style="font-family:'Liberation Sans',sans-serif">CD4+ T cell</text>
<text x="208.01" y="449.80" font-size="4.15" fill="#262626" stroke="#262626" stroke-width="0.08" text-anchor="middle" style="font-family:'Liberation Sans',sans-serif">CD8+ T cell</text>
<text x="257.18" y="449.80" font-size="4.15" fill="#262626" stroke="#262626" stroke-width="0.08" text-anchor="middle" style="font-family:'Liberation Sans',sans-serif">B cell</text>
<text x="306.35" y="449.80" font-size="4.15" fill="#262626" stroke="#262626" stroke-width="0.08" text-anchor="middle" style="font-family:'Liberation Sans',sans-serif">Basophils</text>
<text x="355.52" y="449.80" font-size="4.15" fill="#262626" stroke="#262626" stroke-width="0.08" text-anchor="middle" style="font-family:'Liberation Sans',sans-serif">NK/NKT cell</text>
<text x="404.69" y="449.80" font-size="4.15" fill="#262626" stroke="#262626" stroke-width="0.08" text-anchor="middle" style="font-family:'Liberation Sans',sans-serif">Mast cells</text>
<text x="232.4" y="456.10" font-size="5.0" font-weight="bold" fill="#1a1a1a" text-anchor="middle" style="font-family:'Liberation Sans',sans-serif">Cluster</text>
<text x="188.7" y="469.60" font-size="4.2" fill="#262626" style="font-family:'Liberation Sans',sans-serif">Time point</text>
<rect x="210.30" y="464.70" width="5.6" height="6" fill="#6b6b6b" stroke="#999" stroke-width="0.3"/>
<text x="218.20" y="469.60" font-size="4.0" font-weight="bold" fill="#1a1a1a" style="font-family:'Liberation Sans',sans-serif">wk5</text>
<rect x="227.40" y="464.70" width="5.6" height="6" fill="#8a8a8a" stroke="#999" stroke-width="0.3"/>
<text x="235.10" y="469.60" font-size="4.0" font-weight="bold" fill="#1a1a1a" style="font-family:'Liberation Sans',sans-serif">wk11</text>
<rect x="247.00" y="464.70" width="5.6" height="6" fill="#aaaaaa" stroke="#999" stroke-width="0.3"/>
<text x="254.80" y="469.60" font-size="4.0" font-weight="bold" fill="#1a1a1a" style="font-family:'Liberation Sans',sans-serif">wk13</text>
<rect x="266.30" y="464.70" width="5.6" height="6" fill="#cccccc" stroke="#999" stroke-width="0.3"/>
<text x="273.70" y="469.60" font-size="4.0" font-weight="bold" fill="#1a1a1a" style="font-family:'Liberation Sans',sans-serif">N</text>
<rect x="15.00" y="318.50" width="420.00" height="156.00" fill="none" stroke="#222" stroke-width="1.85"/>
<text transform="translate(0.80,326.20) scale(0.86,1)" font-size="10" fill="#111" stroke="#111" stroke-width="0.25" style="font-family:'Liberation Sans',sans-serif">C</text>
<line x1="470.50" x2="470.50" y1="153.40" y2="164.30" stroke="#e2e2e2" stroke-width="0.8"/>
<line x1="512.40" x2="512.40" y1="153.40" y2="164.30" stroke="#e2e2e2" stroke-width="0.8"/>
<line x1="555.90" x2="555.90" y1="153.40" y2="164.30" stroke="#e2e2e2" stroke-width="0.8"/>
<line x1="598.20" x2="598.20" y1="153.40" y2="164.30" stroke="#e2e2e2" stroke-width="0.8"/>
<line x1="640.40" x2="640.40" y1="153.40" y2="164.30" stroke="#e2e2e2" stroke-width="0.8"/>
<line x1="683.00" x2="683.00" y1="153.40" y2="164.30" stroke="#e2e2e2" stroke-width="0.8"/>
<line x1="470.50" x2="470.50" y1="326.40" y2="337.30" stroke="#e2e2e2" stroke-width="0.8"/>
<line x1="512.40" x2="512.40" y1="326.40" y2="337.30" stroke="#e2e2e2" stroke-width="0.8"/>
<line x1="555.90" x2="555.90" y1="326.40" y2="337.30" stroke="#e2e2e2" stroke-width="0.8"/>
<line x1="598.20" x2="598.20" y1="326.40" y2="337.30" stroke="#e2e2e2" stroke-width="0.8"/>
<line x1="640.40" x2="640.40" y1="326.40" y2="337.30" stroke="#e2e2e2" stroke-width="0.8"/>
<line x1="683.00" x2="683.00" y1="326.40" y2="337.30" stroke="#e2e2e2" stroke-width="0.8"/>
<line x1="470.3" x2="683" y1="159.1" y2="159.1" stroke="#e8e8e8" stroke-width="0.6"/>
<line x1="470.3" x2="683" y1="331.9" y2="331.9" stroke="#e8e8e8" stroke-width="0.6"/>
<rect x="470.50" y="1.40" width="212.50" height="10.90" fill="#d2d2d2"/>
<defs><clipPath id="t0c0"><rect x="471.00" y="1.40" width="40.90" height="152.00"/></clipPath></defs>
<defs><clipPath id="t0c1"><rect x="512.90" y="1.40" width="42.50" height="152.00"/></clipPath></defs>
<defs><clipPath id="t0c2"><rect x="556.40" y="1.40" width="41.30" height="152.00"/></clipPath></defs>
<defs><clipPath id="t0c3"><rect x="598.70" y="1.40" width="41.20" height="152.00"/></clipPath></defs>
<defs><clipPath id="t0c4"><rect x="640.90" y="1.40" width="41.60" height="152.00"/></clipPath></defs>
<text x="472.10" y="9.70" font-size="7.10" font-weight="bold" fill="#111" style="font-family:'Liberation Sans',sans-serif">Cluster</text>
<text x="514.00" y="9.70" font-size="7.10" font-weight="bold" fill="#111" style="font-family:'Liberation Sans',sans-serif">Module</text>
<text x="557.50" y="9.70" font-size="7.10" font-weight="bold" fill="#111" style="font-family:'Liberation Sans',sans-serif">Contrast</text>
<text x="599.80" y="9.70" font-size="7.10" font-weight="bold" fill="#111" style="font-family:'Liberation Sans',sans-serif">p-value</text>
<text x="642.00" y="9.70" font-size="7.10" font-weight="bold" fill="#111" style="font-family:'Liberation Sans',sans-serif">FDR&lt;0.05</text>
<text clip-path="url(#t0c0)" x="472.00" y="20.10" font-size="7.10" fill="#1a1a1a" stroke="#1a1a1a" stroke-width="0.12" style="font-family:'Liberation Sans',sans-serif">Macrophage</text>
<text clip-path="url(#t0c1)" x="513.90" y="20.10" font-size="7.10" fill="#1a1a1a" stroke="#1a1a1a" stroke-width="0.12" style="font-family:'Liberation Sans',sans-serif">TH1</text>
<text clip-path="url(#t0c2)" x="557.40" y="20.10" font-size="7.10" fill="#1a1a1a" stroke="#1a1a1a" stroke-width="0.12" style="font-family:'Liberation Sans',sans-serif">wk5_vs_wk11</text>
<text x="638.90" y="20.10" font-size="7.10" fill="#1a1a1a" stroke="#1a1a1a" stroke-width="0.12" text-anchor="end" style="font-family:'Liberation Sans',sans-serif">4.14E-130</text>
<text x="681.50" y="20.10" font-size="7.10" fill="#1a1a1a" stroke="#1a1a1a" stroke-width="0.12" text-anchor="end" style="font-family:'Liberation Sans',sans-serif">4.964E-129</text>
<text clip-path="url(#t0c0)" x="472.00" y="30.50" font-size="7.10" fill="#1a1a1a" stroke="#1a1a1a" stroke-width="0.12" style="font-family:'Liberation Sans',sans-serif">Macrophage</text>
<text clip-path="url(#t0c1)" x="513.90" y="30.50" font-size="7.10" fill="#1a1a1a" stroke="#1a1a1a" stroke-width="0.12" style="font-family:'Liberation Sans',sans-serif">TH1</text>
<text clip-path="url(#t0c2)" x="557.40" y="30.50" font-size="7.10" fill="#1a1a1a" stroke="#1a1a1a" stroke-width="0.12" style="font-family:'Liberation Sans',sans-serif">wk11_vs_wk13</text>
<text x="638.90" y="30.50" font-size="7.10" fill="#1a1a1a" stroke="#1a1a1a" stroke-width="0.12" text-anchor="end" style="font-family:'Liberation Sans',sans-serif">9.82E-70</text>
<text x="681.50" y="30.50" font-size="7.10" fill="#1a1a1a" stroke="#1a1a1a" stroke-width="0.12" text-anchor="end" style="font-family:'Liberation Sans',sans-serif">8.3191E-69</text>
<text clip-path="url(#t0c0)" x="472.00" y="41.30" font-size="7.10" fill="#1a1a1a" stroke="#1a1a1a" stroke-width="0.12" style="font-family:'Liberation Sans',sans-serif">Macrophage</text>
<text clip-path="url(#t0c1)" x="513.90" y="41.30" font-size="7.10" fill="#1a1a1a" stroke="#1a1a1a" stroke-width="0.12" style="font-family:'Liberation Sans',sans-serif">TH1</text>
<text clip-path="url(#t0c2)" x="557.40" y="41.30" font-size="7.10" fill="#1a1a1a" stroke="#1a1a1a" stroke-width="0.12" style="font-family:'Liberation Sans',sans-serif">wk11_vs_N</text>
<text x="638.90" y="41.30" font-size="7.10" fill="#1a1a1a" stroke="#1a1a1a" stroke-width="0.12" text-anchor="end" style="font-family:'Liberation Sans',sans-serif">3.69E-176</text>
<text x="681.50" y="41.30" font-size="7.10" fill="#1a1a1a" stroke="#1a1a1a" stroke-width="0.12" text-anchor="end" style="font-family:'Liberation Sans',sans-serif">4.828E-175</text>
<text clip-path="url(#t0c0)" x="472.00" y="52.40" font-size="7.10" fill="#1a1a1a" stroke="#1a1a1a" stroke-width="0.12" style="font-family:'Liberation Sans',sans-serif">Monocyte</text>
<text clip-path="url(#t0c1)" x="513.90" y="52.40" font-size="7.10" fill="#1a1a1a" stroke="#1a1a1a" stroke-width="0.12" style="font-family:'Liberation Sans',sans-serif">TH1</text>
<text clip-path="url(#t0c2)" x="557.40" y="52.40" font-size="7.10" fill="#1a1a1a" stroke="#1a1a1a" stroke-width="0.12" style="font-family:'Liberation Sans',sans-serif">wk5_vs_wk11</text>
<text x="638.90" y="52.40" font-size="7.10" fill="#1a1a1a" stroke="#1a1a1a" stroke-width="0.12" text-anchor="end" style="font-family:'Liberation Sans',sans-serif">5.10E-30</text>
<text x="681.50" y="52.40" font-size="7.10" fill="#1a1a1a" stroke="#1a1a1a" stroke-width="0.12" text-anchor="end" style="font-family:'Liberation Sans',sans-serif">2.5331E-29</text>
<text clip-path="url(#t0c0)" x="472.00" y="63.40" font-size="7.10" fill="#1a1a1a" stroke="#1a1a1a" stroke-width="0.12" style="font-family:'Liberation Sans',sans-serif">Monocyte</text>
<text clip-path="url(#t0c1)" x="513.90" y="63.40" font-size="7.10" fill="#1a1a1a" stroke="#1a1a1a" stroke-width="0.12" style="font-family:'Liberation Sans',sans-serif">TH1</text>
<text clip-path="url(#t0c2)" x="557.40" y="63.40" font-size="7.10" fill="#1a1a1a" stroke="#1a1a1a" stroke-width="0.12" style="font-family:'Liberation Sans',sans-serif">wk11_vs_wk13</text>
<text x="638.90" y="63.40" font-size="7.10" fill="#1a1a1a" stroke="#1a1a1a" stroke-width="0.12" text-anchor="end" style="font-family:'Liberation Sans',sans-serif">4.50E-08</text>
<text x="681.50" y="63.40" font-size="7.10" fill="#1a1a1a" stroke="#1a1a1a" stroke-width="0.12" text-anchor="end" style="font-family:'Liberation Sans',sans-serif">1.296E-07</text>
<text clip-path="url(#t0c0)" x="472.00" y="74.10" font-size="7.10" fill="#1a1a1a" stroke="#1a1a1a" stroke-width="0.12" style="font-family:'Liberation Sans',sans-serif">Monocyte</text>
<text clip-path="url(#t0c1)" x="513.90" y="74.10" font-size="7.10" fill="#1a1a1a" stroke="#1a1a1a" stroke-width="0.12" style="font-family:'Liberation Sans',sans-serif">TH1</text>
<text clip-path="url(#t0c2)" x="557.40" y="74.10" font-size="7.10" fill="#1a1a1a" stroke="#1a1a1a" stroke-width="0.12" style="font-family:'Liberation Sans',sans-serif">wk11_vs_N</text>
<text x="638.90" y="74.10" font-size="7.10" fill="#1a1a1a" stroke="#1a1a1a" stroke-width="0.12" text-anchor="end" style="font-family:'Liberation Sans',sans-serif">5.96E-116</text>
<text x="681.50" y="74.10" font-size="7.10" fill="#1a1a1a" stroke="#1a1a1a" stroke-width="0.12" text-anchor="end" style="font-family:'Liberation Sans',sans-serif">6.606E-115</text>
<text clip-path="url(#t0c0)" x="472.00" y="85.10" font-size="7.10" fill="#1a1a1a" stroke="#1a1a1a" stroke-width="0.12" style="font-family:'Liberation Sans',sans-serif">CD4+ T cell</text>
<text clip-path="url(#t0c1)" x="513.90" y="85.10" font-size="7.10" fill="#1a1a1a" stroke="#1a1a1a" stroke-width="0.12" style="font-family:'Liberation Sans',sans-serif">TH1</text>
<text clip-path="url(#t0c2)" x="557.40" y="85.10" font-size="7.10" fill="#1a1a1a" stroke="#1a1a1a" stroke-width="0.12" style="font-family:'Liberation Sans',sans-serif">wk5_vs_wk11</text>
<text x="638.90" y="85.10" font-size="7.10" fill="#1a1a1a" stroke="#1a1a1a" stroke-width="0.12" text-anchor="end" style="font-family:'Liberation Sans',sans-serif">3.10E-19</text>
<text x="681.50" y="85.10" font-size="7.10" fill="#1a1a1a" stroke="#1a1a1a" stroke-width="0.12" text-anchor="end" style="font-family:'Liberation Sans',sans-serif">1.1461E-18</text>
<text clip-path="url(#t0c0)" x="472.00" y="95.80" font-size="7.10" fill="#1a1a1a" stroke="#1a1a1a" stroke-width="0.12" style="font-family:'Liberation Sans',sans-serif">CD4+ T cell</text>
<text clip-path="url(#t0c1)" x="513.90" y="95.80" font-size="7.10" fill="#1a1a1a" stroke="#1a1a1a" stroke-width="0.12" style="font-family:'Liberation Sans',sans-serif">TH1</text>
<text clip-path="url(#t0c2)" x="557.40" y="95.80" font-size="7.10" fill="#1a1a1a" stroke="#1a1a1a" stroke-width="0.12" style="font-family:'Liberation Sans',sans-serif">wk11_vs_wk13</text>
<text x="638.90" y="95.80" font-size="7.10" fill="#1a1a1a" stroke="#1a1a1a" stroke-width="0.12" text-anchor="end" style="font-family:'Liberation Sans',sans-serif">0.00018517</text>
<text x="681.50" y="95.80" font-size="7.10" fill="#1a1a1a" stroke="#1a1a1a" stroke-width="0.12" text-anchor="end" style="font-family:'Liberation Sans',sans-serif">0.00036527</text>
<text clip-path="url(#t0c0)" x="472.00" y="106.80" font-size="7.10" fill="#1a1a1a" stroke="#1a1a1a" stroke-width="0.12" style="font-family:'Liberation Sans',sans-serif">CD4+ T cell</text>
<text clip-path="url(#t0c1)" x="513.90" y="106.80" font-size="7.10" fill="#1a1a1a" stroke="#1a1a1a" stroke-width="0.12" style="font-family:'Liberation Sans',sans-serif">TH1</text>
<text clip-path="url(#t0c2)" x="557.40" y="106.80" font-size="7.10" fill="#1a1a1a" stroke="#1a1a1a" stroke-width="0.12" style="font-family:'Liberation Sans',sans-serif">wk11_vs_N</text>
<text x="638.90" y="106.80" font-size="7.10" fill="#1a1a1a" stroke="#1a1a1a" stroke-width="0.12" text-anchor="end" style="font-family:'Liberation Sans',sans-serif">4.87E-35</text>
<text x="681.50" y="106.80" font-size="7.10" fill="#1a1a1a" stroke="#1a1a1a" stroke-width="0.12" text-anchor="end" style="font-family:'Liberation Sans',sans-serif">2.6961E-34</text>
<text clip-path="url(#t0c0)" x="472.00" y="118.30" font-size="7.10" fill="#1a1a1a" stroke="#1a1a1a" stroke-width="0.12" style="font-family:'Liberation Sans',sans-serif">CD8+ T cell</text>
<text clip-path="url(#t0c1)" x="513.90" y="118.30" font-size="7.10" fill="#1a1a1a" stroke="#1a1a1a" stroke-width="0.12" style="font-family:'Liberation Sans',sans-serif">TH1</text>
<text clip-path="url(#t0c2)" x="557.40" y="118.30" font-size="7.10" fill="#1a1a1a" stroke="#1a1a1a" stroke-width="0.12" style="font-family:'Liberation Sans',sans-serif">wk5_vs_wk11</text>
<text x="638.90" y="118.30" font-size="7.10" fill="#1a1a1a" stroke="#1a1a1a" stroke-width="0.12" text-anchor="end" style="font-family:'Liberation Sans',sans-serif">1.51E-08</text>
<text x="681.50" y="118.30" font-size="7.10" fill="#1a1a1a" stroke="#1a1a1a" stroke-width="0.12" text-anchor="end" style="font-family:'Liberation Sans',sans-serif">4.4277E-08</text>
<text clip-path="url(#t0c0)" x="472.00" y="129.10" font-size="7.10" fill="#1a1a1a" stroke="#1a1a1a" stroke-width="0.12" style="font-family:'Liberation Sans',sans-serif">CD8+ T cell</text>
<text clip-path="url(#t0c1)" x="513.90" y="129.10" font-size="7.10" fill="#1a1a1a" stroke="#1a1a1a" stroke-width="0.12" style="font-family:'Liberation Sans',sans-serif">TH1</text>
<text clip-path="url(#t0c2)" x="557.40" y="129.10" font-size="7.10" fill="#1a1a1a" stroke="#1a1a1a" stroke-width="0.12" style="font-family:'Liberation Sans',sans-serif">wk11_vs_N</text>
<text x="638.90" y="129.10" font-size="7.10" fill="#1a1a1a" stroke="#1a1a1a" stroke-width="0.12" text-anchor="end" style="font-family:'Liberation Sans',sans-serif">6.85E-36</text>
<text x="681.50" y="129.10" font-size="7.10" fill="#1a1a1a" stroke="#1a1a1a" stroke-width="0.12" text-anchor="end" style="font-family:'Liberation Sans',sans-serif">4.1098E-35</text>
<text clip-path="url(#t0c0)" x="472.00" y="140.00" font-size="7.10" fill="#1a1a1a" stroke="#1a1a1a" stroke-width="0.12" style="font-family:'Liberation Sans',sans-serif">Mast cells</text>
<text clip-path="url(#t0c1)" x="513.90" y="140.00" font-size="7.10" fill="#1a1a1a" stroke="#1a1a1a" stroke-width="0.12" style="font-family:'Liberation Sans',sans-serif">TH1</text>
<text clip-path="url(#t0c2)" x="557.40" y="140.00" font-size="7.10" fill="#1a1a1a" stroke="#1a1a1a" stroke-width="0.12" style="font-family:'Liberation Sans',sans-serif">wk11_vs_wk13</text>
<text x="638.90" y="140.00" font-size="7.10" fill="#1a1a1a" stroke="#1a1a1a" stroke-width="0.12" text-anchor="end" style="font-family:'Liberation Sans',sans-serif">4.86E-05</text>
<text x="681.50" y="140.00" font-size="7.10" fill="#1a1a1a" stroke="#1a1a1a" stroke-width="0.12" text-anchor="end" style="font-family:'Liberation Sans',sans-serif">0.00010297</text>
<text clip-path="url(#t0c0)" x="472.00" y="150.90" font-size="7.10" fill="#1a1a1a" stroke="#1a1a1a" stroke-width="0.12" style="font-family:'Liberation Sans',sans-serif">Mast cells</text>
<text clip-path="url(#t0c1)" x="513.90" y="150.90" font-size="7.10" fill="#1a1a1a" stroke="#1a1a1a" stroke-width="0.12" style="font-family:'Liberation Sans',sans-serif">TH1</text>
<text clip-path="url(#t0c2)" x="557.40" y="150.90" font-size="7.10" fill="#1a1a1a" stroke="#1a1a1a" stroke-width="0.12" style="font-family:'Liberation Sans',sans-serif">wk11_vs_N</text>
<text x="638.90" y="150.90" font-size="7.10" fill="#1a1a1a" stroke="#1a1a1a" stroke-width="0.12" text-anchor="end" style="font-family:'Liberation Sans',sans-serif">1.79E-06</text>
<text x="681.50" y="150.90" font-size="7.10" fill="#1a1a1a" stroke="#1a1a1a" stroke-width="0.12" text-anchor="end" style="font-family:'Liberation Sans',sans-serif">4.1473E-06</text>
<line x1="469.90" x2="683.60" y1="1.40" y2="1.40" stroke="#222" stroke-width="1.3"/>
<line x1="470.50" x2="683.00" y1="12.30" y2="12.30" stroke="#444" stroke-width="1.0"/>
<line x1="470.50" x2="683.00" y1="22.60" y2="22.60" stroke="#484848" stroke-width="1.0"/>
<line x1="470.50" x2="683.00" y1="33.00" y2="33.00" stroke="#484848" stroke-width="1.0"/>
<line x1="469.90" x2="683.60" y1="43.80" y2="43.80" stroke="#111" stroke-width="1.8"/>
<line x1="470.50" x2="683.00" y1="54.90" y2="54.90" stroke="#484848" stroke-width="1.0"/>
<line x1="470.50" x2="683.00" y1="65.90" y2="65.90" stroke="#484848" stroke-width="1.0"/>
<line x1="469.90" x2="683.60" y1="76.60" y2="76.60" stroke="#111" stroke-width="1.8"/>
<line x1="470.50" x2="683.00" y1="87.60" y2="87.60" stroke="#484848" stroke-width="1.0"/>
<line x1="470.50" x2="683.00" y1="98.30" y2="98.30" stroke="#484848" stroke-width="1.0"/>
<line x1="469.90" x2="683.60" y1="109.30" y2="109.30" stroke="#111" stroke-width="1.8"/>
<line x1="470.50" x2="683.00" y1="120.80" y2="120.80" stroke="#484848" stroke-width="1.0"/>
<line x1="469.90" x2="683.60" y1="131.60" y2="131.60" stroke="#111" stroke-width="1.8"/>
<line x1="470.50" x2="683.00" y1="142.50" y2="142.50" stroke="#484848" stroke-width="1.0"/>
<line x1="469.90" x2="683.60" y1="153.40" y2="153.40" stroke="#111" stroke-width="1.8"/>
<line x1="470.50" x2="470.50" y1="1.40" y2="153.40" stroke="#333" stroke-width="1.30"/>
<line x1="512.40" x2="512.40" y1="1.40" y2="153.40" stroke="#333" stroke-width="1.00"/>
<line x1="555.90" x2="555.90" y1="1.40" y2="153.40" stroke="#333" stroke-width="1.00"/>
<line x1="598.20" x2="598.20" y1="1.40" y2="153.40" stroke="#333" stroke-width="1.00"/>
<line x1="640.40" x2="640.40" y1="1.40" y2="153.40" stroke="#333" stroke-width="1.00"/>
<line x1="683.00" x2="683.00" y1="1.40" y2="153.40" stroke="#333" stroke-width="1.30"/>
<text transform="translate(453.8,16.60) scale(0.86,1)" font-size="9.9" fill="#111" stroke="#111" stroke-width="0.15" style="font-family:'Liberation Sans',sans-serif">D</text>
<rect x="470.50" y="164.30" width="212.50" height="10.95" fill="#d2d2d2"/>
<defs><clipPath id="t1c0"><rect x="471.00" y="164.30" width="40.90" height="162.10"/></clipPath></defs>
<defs><clipPath id="t1c1"><rect x="512.90" y="164.30" width="42.50" height="162.10"/></clipPath></defs>
<defs><clipPath id="t1c2"><rect x="556.40" y="164.30" width="41.30" height="162.10"/></clipPath></defs>
<defs><clipPath id="t1c3"><rect x="598.70" y="164.30" width="41.20" height="162.10"/></clipPath></defs>
<defs><clipPath id="t1c4"><rect x="640.90" y="164.30" width="41.60" height="162.10"/></clipPath></defs>
<text x="472.10" y="172.65" font-size="7.10" font-weight="bold" fill="#111" style="font-family:'Liberation Sans',sans-serif">Cluster</text>
<text x="514.00" y="172.65" font-size="7.10" font-weight="bold" fill="#111" style="font-family:'Liberation Sans',sans-serif">Module</text>
<text x="557.50" y="172.65" font-size="7.10" font-weight="bold" fill="#111" style="font-family:'Liberation Sans',sans-serif">Contrast</text>
<text x="599.80" y="172.65" font-size="7.10" font-weight="bold" fill="#111" style="font-family:'Liberation Sans',sans-serif">p-value</text>
<text x="642.00" y="172.65" font-size="7.10" font-weight="bold" fill="#111" style="font-family:'Liberation Sans',sans-serif">FDR&lt;0.05</text>
<text clip-path="url(#t1c0)" x="472.00" y="183.60" font-size="7.10" fill="#1a1a1a" stroke="#1a1a1a" stroke-width="0.12" style="font-family:'Liberation Sans',sans-serif">Macrophage</text>
<text clip-path="url(#t1c1)" x="513.90" y="183.60" font-size="7.10" fill="#1a1a1a" stroke="#1a1a1a" stroke-width="0.12" style="font-family:'Liberation Sans',sans-serif">TH17</text>
<text clip-path="url(#t1c2)" x="557.40" y="183.60" font-size="7.10" fill="#1a1a1a" stroke="#1a1a1a" stroke-width="0.12" style="font-family:'Liberation Sans',sans-serif">wk5_vs_wk11</text>
<text x="638.90" y="183.60" font-size="7.10" fill="#1a1a1a" stroke="#1a1a1a" stroke-width="0.12" text-anchor="end" style="font-family:'Liberation Sans',sans-serif">4.80E-17</text>
<text x="681.50" y="183.60" font-size="7.10" fill="#1a1a1a" stroke="#1a1a1a" stroke-width="0.12" text-anchor="end" style="font-family:'Liberation Sans',sans-serif">1.5723E-16</text>
<text clip-path="url(#t1c0)" x="472.00" y="194.00" font-size="7.10" fill="#1a1a1a" stroke="#1a1a1a" stroke-width="0.12" style="font-family:'Liberation Sans',sans-serif">Macrophage</text>
<text clip-path="url(#t1c1)" x="513.90" y="194.00" font-size="7.10" fill="#1a1a1a" stroke="#1a1a1a" stroke-width="0.12" style="font-family:'Liberation Sans',sans-serif">TH17</text>
<text clip-path="url(#t1c2)" x="557.40" y="194.00" font-size="7.10" fill="#1a1a1a" stroke="#1a1a1a" stroke-width="0.12" style="font-family:'Liberation Sans',sans-serif">wk5_vs_N</text>
<text x="638.90" y="194.00" font-size="7.10" fill="#1a1a1a" stroke="#1a1a1a" stroke-width="0.12" text-anchor="end" style="font-family:'Liberation Sans',sans-serif">1.69E-47</text>
<text x="681.50" y="194.00" font-size="7.10" fill="#1a1a1a" stroke="#1a1a1a" stroke-width="0.12" text-anchor="end" style="font-family:'Liberation Sans',sans-serif">1.1556E-46</text>
<text clip-path="url(#t1c0)" x="472.00" y="205.00" font-size="7.10" fill="#1a1a1a" stroke="#1a1a1a" stroke-width="0.12" style="font-family:'Liberation Sans',sans-serif">Macrophage</text>
<text clip-path="url(#t1c1)" x="513.90" y="205.00" font-size="7.10" fill="#1a1a1a" stroke="#1a1a1a" stroke-width="0.12" style="font-family:'Liberation Sans',sans-serif">TH17</text>
<text clip-path="url(#t1c2)" x="557.40" y="205.00" font-size="7.10" fill="#1a1a1a" stroke="#1a1a1a" stroke-width="0.12" style="font-family:'Liberation Sans',sans-serif">wk11_vs_N</text>
<text x="638.90" y="205.00" font-size="7.10" fill="#1a1a1a" stroke="#1a1a1a" stroke-width="0.12" text-anchor="end" style="font-family:'Liberation Sans',sans-serif">1.63E-303</text>
<text x="681.50" y="205.00" font-size="7.10" fill="#1a1a1a" stroke="#1a1a1a" stroke-width="0.12" text-anchor="end" style="font-family:'Liberation Sans',sans-serif">3.353E-302</text>
<text clip-path="url(#t1c0)" x="472.00" y="215.80" font-size="7.10" fill="#1a1a1a" stroke="#1a1a1a" stroke-width="0.12" style="font-family:'Liberation Sans',sans-serif">Macrophage</text>
<text clip-path="url(#t1c1)" x="513.90" y="215.80" font-size="7.10" fill="#1a1a1a" stroke="#1a1a1a" stroke-width="0.12" style="font-family:'Liberation Sans',sans-serif">TH17</text>
<text clip-path="url(#t1c2)" x="557.40" y="215.80" font-size="7.10" fill="#1a1a1a" stroke="#1a1a1a" stroke-width="0.12" style="font-family:'Liberation Sans',sans-serif">wk13_vs_N</text>
<text x="638.90" y="215.80" font-size="7.10" fill="#1a1a1a" stroke="#1a1a1a" stroke-width="0.12" text-anchor="end" style="font-family:'Liberation Sans',sans-serif">6.78E-20</text>
<text x="681.50" y="215.80" font-size="7.10" fill="#1a1a1a" stroke="#1a1a1a" stroke-width="0.12" text-anchor="end" style="font-family:'Liberation Sans',sans-serif">2.5702E-19</text>
<text clip-path="url(#t1c0)" x="472.00" y="226.60" font-size="7.10" fill="#1a1a1a" stroke="#1a1a1a" stroke-width="0.12" style="font-family:'Liberation Sans',sans-serif">Monocyte</text>
<text clip-path="url(#t1c1)" x="513.90" y="226.60" font-size="7.10" fill="#1a1a1a" stroke="#1a1a1a" stroke-width="0.12" style="font-family:'Liberation Sans',sans-serif">TH17</text>
<text clip-path="url(#t1c2)" x="557.40" y="226.60" font-size="7.10" fill="#1a1a1a" stroke="#1a1a1a" stroke-width="0.12" style="font-family:'Liberation Sans',sans-serif">wk5_vs_wk11</text>
<text x="638.90" y="226.60" font-size="7.10" fill="#1a1a1a" stroke="#1a1a1a" stroke-width="0.12" text-anchor="end" style="font-family:'Liberation Sans',sans-serif">5.84E-05</text>
<text x="681.50" y="226.60" font-size="7.10" fill="#1a1a1a" stroke="#1a1a1a" stroke-width="0.12" text-anchor="end" style="font-family:'Liberation Sans',sans-serif">0.00012198</text>
<text clip-path="url(#t1c0)" x="472.00" y="237.40" font-size="7.10" fill="#1a1a1a" stroke="#1a1a1a" stroke-width="0.12" style="font-family:'Liberation Sans',sans-serif">Monocyte</text>
<text clip-path="url(#t1c1)" x="513.90" y="237.40" font-size="7.10" fill="#1a1a1a" stroke="#1a1a1a" stroke-width="0.12" style="font-family:'Liberation Sans',sans-serif">TH17</text>
<text clip-path="url(#t1c2)" x="557.40" y="237.40" font-size="7.10" fill="#1a1a1a" stroke="#1a1a1a" stroke-width="0.12" style="font-family:'Liberation Sans',sans-serif">wk11_vs_N</text>
<text x="638.90" y="237.40" font-size="7.10" fill="#1a1a1a" stroke="#1a1a1a" stroke-width="0.12" text-anchor="end" style="font-family:'Liberation Sans',sans-serif">1.93E-35</text>
<text x="681.50" y="237.40" font-size="7.10" fill="#1a1a1a" stroke="#1a1a1a" stroke-width="0.12" text-anchor="end" style="font-family:'Liberation Sans',sans-serif">1.1114E-34</text>
<text clip-path="url(#t1c0)" x="472.00" y="248.20" font-size="7.10" fill="#1a1a1a" stroke="#1a1a1a" stroke-width="0.12" style="font-family:'Liberation Sans',sans-serif">CD4+ T cell</text>
<text clip-path="url(#t1c1)" x="513.90" y="248.20" font-size="7.10" fill="#1a1a1a" stroke="#1a1a1a" stroke-width="0.12" style="font-family:'Liberation Sans',sans-serif">TH17</text>
<text clip-path="url(#t1c2)" x="557.40" y="248.20" font-size="7.10" fill="#1a1a1a" stroke="#1a1a1a" stroke-width="0.12" style="font-family:'Liberation Sans',sans-serif">wk5_vs_wk11</text>
<text x="638.90" y="248.20" font-size="7.10" fill="#1a1a1a" stroke="#1a1a1a" stroke-width="0.12" text-anchor="end" style="font-family:'Liberation Sans',sans-serif">1.69E-17</text>
<text x="681.50" y="248.20" font-size="7.10" fill="#1a1a1a" stroke="#1a1a1a" stroke-width="0.12" text-anchor="end" style="font-family:'Liberation Sans',sans-serif">5.9341E-17</text>
<text clip-path="url(#t1c0)" x="472.00" y="259.10" font-size="7.10" fill="#1a1a1a" stroke="#1a1a1a" stroke-width="0.12" style="font-family:'Liberation Sans',sans-serif">CD4+ T cell</text>
<text clip-path="url(#t1c1)" x="513.90" y="259.10" font-size="7.10" fill="#1a1a1a" stroke="#1a1a1a" stroke-width="0.12" style="font-family:'Liberation Sans',sans-serif">TH17</text>
<text clip-path="url(#t1c2)" x="557.40" y="259.10" font-size="7.10" fill="#1a1a1a" stroke="#1a1a1a" stroke-width="0.12" style="font-family:'Liberation Sans',sans-serif">wk5_vs_N</text>
<text x="638.90" y="259.10" font-size="7.10" fill="#1a1a1a" stroke="#1a1a1a" stroke-width="0.12" text-anchor="end" style="font-family:'Liberation Sans',sans-serif">4.76E-17</text>
<text x="681.50" y="259.10" font-size="7.10" fill="#1a1a1a" stroke="#1a1a1a" stroke-width="0.12" text-anchor="end" style="font-family:'Liberation Sans',sans-serif">1.5723E-16</text>
<text clip-path="url(#t1c0)" x="472.00" y="270.00" font-size="7.10" fill="#1a1a1a" stroke="#1a1a1a" stroke-width="0.12" style="font-family:'Liberation Sans',sans-serif">CD4+ T cell</text>
<text clip-path="url(#t1c1)" x="513.90" y="270.00" font-size="7.10" fill="#1a1a1a" stroke="#1a1a1a" stroke-width="0.12" style="font-family:'Liberation Sans',sans-serif">TH17</text>
<text clip-path="url(#t1c2)" x="557.40" y="270.00" font-size="7.10" fill="#1a1a1a" stroke="#1a1a1a" stroke-width="0.12" style="font-family:'Liberation Sans',sans-serif">wk11_vs_N</text>
<text x="638.90" y="270.00" font-size="7.10" fill="#1a1a1a" stroke="#1a1a1a" stroke-width="0.12" text-anchor="end" style="font-family:'Liberation Sans',sans-serif">7.96E-82</text>
<text x="681.50" y="270.00" font-size="7.10" fill="#1a1a1a" stroke="#1a1a1a" stroke-width="0.12" text-anchor="end" style="font-family:'Liberation Sans',sans-serif">8.1922E-81</text>
<text clip-path="url(#t1c0)" x="472.00" y="280.70" font-size="7.10" fill="#1a1a1a" stroke="#1a1a1a" stroke-width="0.12" style="font-family:'Liberation Sans',sans-serif">CD8+ T cell</text>
<text clip-path="url(#t1c1)" x="513.90" y="280.70" font-size="7.10" fill="#1a1a1a" stroke="#1a1a1a" stroke-width="0.12" style="font-family:'Liberation Sans',sans-serif">TH17</text>
<text clip-path="url(#t1c2)" x="557.40" y="280.70" font-size="7.10" fill="#1a1a1a" stroke="#1a1a1a" stroke-width="0.12" style="font-family:'Liberation Sans',sans-serif">wk5_vs_wk13</text>
<text x="638.90" y="280.70" font-size="7.10" fill="#1a1a1a" stroke="#1a1a1a" stroke-width="0.12" text-anchor="end" style="font-family:'Liberation Sans',sans-serif">2.22E-12</text>
<text x="681.50" y="280.70" font-size="7.10" fill="#1a1a1a" stroke="#1a1a1a" stroke-width="0.12" text-anchor="end" style="font-family:'Liberation Sans',sans-serif">6.9402E-12</text>
<text clip-path="url(#t1c0)" x="472.00" y="291.10" font-size="7.10" fill="#1a1a1a" stroke="#1a1a1a" stroke-width="0.12" style="font-family:'Liberation Sans',sans-serif">CD8+ T cell</text>
<text clip-path="url(#t1c1)" x="513.90" y="291.10" font-size="7.10" fill="#1a1a1a" stroke="#1a1a1a" stroke-width="0.12" style="font-family:'Liberation Sans',sans-serif">TH17</text>
<text clip-path="url(#t1c2)" x="557.40" y="291.10" font-size="7.10" fill="#1a1a1a" stroke="#1a1a1a" stroke-width="0.12" style="font-family:'Liberation Sans',sans-serif">wk5_vs_N</text>
<text x="638.90" y="291.10" font-size="7.10" fill="#1a1a1a" stroke="#1a1a1a" stroke-width="0.12" text-anchor="end" style="font-family:'Liberation Sans',sans-serif">1.25E-32</text>
<text x="681.50" y="291.10" font-size="7.10" fill="#1a1a1a" stroke="#1a1a1a" stroke-width="0.12" text-anchor="end" style="font-family:'Liberation Sans',sans-serif">6.414E-32</text>
<text clip-path="url(#t1c0)" x="472.00" y="302.10" font-size="7.10" fill="#1a1a1a" stroke="#1a1a1a" stroke-width="0.12" style="font-family:'Liberation Sans',sans-serif">CD8+ T cell</text>
<text clip-path="url(#t1c1)" x="513.90" y="302.10" font-size="7.10" fill="#1a1a1a" stroke="#1a1a1a" stroke-width="0.12" style="font-family:'Liberation Sans',sans-serif">TH17</text>
<text clip-path="url(#t1c2)" x="557.40" y="302.10" font-size="7.10" fill="#1a1a1a" stroke="#1a1a1a" stroke-width="0.12" style="font-family:'Liberation Sans',sans-serif">wk11_vs_N</text>
<text x="638.90" y="302.10" font-size="7.10" fill="#1a1a1a" stroke="#1a1a1a" stroke-width="0.12" text-anchor="end" style="font-family:'Liberation Sans',sans-serif">3.59E-64</text>
<text x="681.50" y="302.10" font-size="7.10" fill="#1a1a1a" stroke="#1a1a1a" stroke-width="0.12" text-anchor="end" style="font-family:'Liberation Sans',sans-serif">2.8684E-63</text>
<text clip-path="url(#t1c0)" x="472.00" y="312.90" font-size="7.10" fill="#1a1a1a" stroke="#1a1a1a" stroke-width="0.12" style="font-family:'Liberation Sans',sans-serif">NK/NKT cell</text>
<text clip-path="url(#t1c1)" x="513.90" y="312.90" font-size="7.10" fill="#1a1a1a" stroke="#1a1a1a" stroke-width="0.12" style="font-family:'Liberation Sans',sans-serif">TH17</text>
<text clip-path="url(#t1c2)" x="557.40" y="312.90" font-size="7.10" fill="#1a1a1a" stroke="#1a1a1a" stroke-width="0.12" style="font-family:'Liberation Sans',sans-serif">wk11_vs_N</text>
<text x="638.90" y="312.90" font-size="7.10" fill="#1a1a1a" stroke="#1a1a1a" stroke-width="0.12" text-anchor="end" style="font-family:'Liberation Sans',sans-serif">0.00231856</text>
<text x="681.50" y="312.90" font-size="7.10" fill="#1a1a1a" stroke="#1a1a1a" stroke-width="0.12" text-anchor="end" style="font-family:'Liberation Sans',sans-serif">0.00417341</text>
<text clip-path="url(#t1c0)" x="472.00" y="323.90" font-size="7.10" fill="#1a1a1a" stroke="#1a1a1a" stroke-width="0.12" style="font-family:'Liberation Sans',sans-serif">Mast cells</text>
<text clip-path="url(#t1c1)" x="513.90" y="323.90" font-size="7.10" fill="#1a1a1a" stroke="#1a1a1a" stroke-width="0.12" style="font-family:'Liberation Sans',sans-serif">TH17</text>
<text clip-path="url(#t1c2)" x="557.40" y="323.90" font-size="7.10" fill="#1a1a1a" stroke="#1a1a1a" stroke-width="0.12" style="font-family:'Liberation Sans',sans-serif">wk11_vs_N</text>
<text x="638.90" y="323.90" font-size="7.10" fill="#1a1a1a" stroke="#1a1a1a" stroke-width="0.12" text-anchor="end" style="font-family:'Liberation Sans',sans-serif">9.06E-07</text>
<text x="681.50" y="323.90" font-size="7.10" fill="#1a1a1a" stroke="#1a1a1a" stroke-width="0.12" text-anchor="end" style="font-family:'Liberation Sans',sans-serif">2.2122E-06</text>
<line x1="469.90" x2="683.60" y1="164.30" y2="164.30" stroke="#222" stroke-width="1.3"/>
<line x1="470.50" x2="683.00" y1="175.25" y2="175.25" stroke="#444" stroke-width="1.0"/>
<line x1="470.50" x2="683.00" y1="186.10" y2="186.10" stroke="#484848" stroke-width="1.0"/>
<line x1="470.50" x2="683.00" y1="196.50" y2="196.50" stroke="#484848" stroke-width="1.0"/>
<line x1="470.50" x2="683.00" y1="207.50" y2="207.50" stroke="#484848" stroke-width="1.0"/>
<line x1="469.90" x2="683.60" y1="218.30" y2="218.30" stroke="#111" stroke-width="1.8"/>
<line x1="470.50" x2="683.00" y1="229.10" y2="229.10" stroke="#484848" stroke-width="1.0"/>
<line x1="469.90" x2="683.60" y1="239.90" y2="239.90" stroke="#111" stroke-width="1.8"/>
<line x1="470.50" x2="683.00" y1="250.70" y2="250.70" stroke="#484848" stroke-width="1.0"/>
<line x1="470.50" x2="683.00" y1="261.60" y2="261.60" stroke="#484848" stroke-width="1.0"/>
<line x1="469.90" x2="683.60" y1="272.50" y2="272.50" stroke="#111" stroke-width="1.8"/>
<line x1="470.50" x2="683.00" y1="283.20" y2="283.20" stroke="#484848" stroke-width="1.0"/>
<line x1="470.50" x2="683.00" y1="293.60" y2="293.60" stroke="#484848" stroke-width="1.0"/>
<line x1="469.90" x2="683.60" y1="304.60" y2="304.60" stroke="#111" stroke-width="1.8"/>
<line x1="469.90" x2="683.60" y1="315.40" y2="315.40" stroke="#111" stroke-width="1.8"/>
<line x1="469.90" x2="683.60" y1="326.40" y2="326.40" stroke="#111" stroke-width="1.8"/>
<line x1="470.50" x2="470.50" y1="164.30" y2="326.40" stroke="#333" stroke-width="1.30"/>
<line x1="512.40" x2="512.40" y1="164.30" y2="326.40" stroke="#333" stroke-width="1.00"/>
<line x1="555.90" x2="555.90" y1="164.30" y2="326.40" stroke="#333" stroke-width="1.00"/>
<line x1="598.20" x2="598.20" y1="164.30" y2="326.40" stroke="#333" stroke-width="1.00"/>
<line x1="640.40" x2="640.40" y1="164.30" y2="326.40" stroke="#333" stroke-width="1.00"/>
<line x1="683.00" x2="683.00" y1="164.30" y2="326.40" stroke="#333" stroke-width="1.30"/>
<text transform="translate(453.8,168.80) scale(0.86,1)" font-size="9.9" fill="#111" stroke="#111" stroke-width="0.15" style="font-family:'Liberation Sans',sans-serif">E</text>
<rect x="470.50" y="337.30" width="212.50" height="10.30" fill="#d2d2d2"/>
<defs><clipPath id="t2c0"><rect x="471.00" y="337.30" width="40.90" height="141.10"/></clipPath></defs>
<defs><clipPath id="t2c1"><rect x="512.90" y="337.30" width="42.50" height="141.10"/></clipPath></defs>
<defs><clipPath id="t2c2"><rect x="556.40" y="337.30" width="41.30" height="141.10"/></clipPath></defs>
<defs><clipPath id="t2c3"><rect x="598.70" y="337.30" width="41.20" height="141.10"/></clipPath></defs>
<defs><clipPath id="t2c4"><rect x="640.90" y="337.30" width="41.60" height="141.10"/></clipPath></defs>
<text x="472.10" y="345.00" font-size="7.10" font-weight="bold" fill="#111" style="font-family:'Liberation Sans',sans-serif">Cluster</text>
<text x="514.00" y="345.00" font-size="7.10" font-weight="bold" fill="#111" style="font-family:'Liberation Sans',sans-serif">Module</text>
<text x="557.50" y="345.00" font-size="7.10" font-weight="bold" fill="#111" style="font-family:'Liberation Sans',sans-serif">Contrast</text>
<text x="599.80" y="345.00" font-size="7.10" font-weight="bold" fill="#111" style="font-family:'Liberation Sans',sans-serif">p-value</text>
<text x="642.00" y="345.00" font-size="7.10" font-weight="bold" fill="#111" style="font-family:'Liberation Sans',sans-serif">FDR&lt;0.05</text>
<text clip-path="url(#t2c0)" x="472.00" y="355.90" font-size="7.10" fill="#1a1a1a" stroke="#1a1a1a" stroke-width="0.12" style="font-family:'Liberation Sans',sans-serif">Macrophage</text>
<text clip-path="url(#t2c1)" x="513.90" y="355.90" font-size="7.10" fill="#1a1a1a" stroke="#1a1a1a" stroke-width="0.12" style="font-family:'Liberation Sans',sans-serif">Immune</text>
<text clip-path="url(#t2c2)" x="557.40" y="355.90" font-size="7.10" fill="#1a1a1a" stroke="#1a1a1a" stroke-width="0.12" style="font-family:'Liberation Sans',sans-serif">wk5_vs_wk11</text>
<text x="638.90" y="355.90" font-size="7.10" fill="#1a1a1a" stroke="#1a1a1a" stroke-width="0.12" text-anchor="end" style="font-family:'Liberation Sans',sans-serif">1.88E-58</text>
<text x="681.50" y="355.90" font-size="7.10" fill="#1a1a1a" stroke="#1a1a1a" stroke-width="0.12" text-anchor="end" style="font-family:'Liberation Sans',sans-serif">1.4282E-57</text>
<text clip-path="url(#t2c0)" x="472.00" y="366.80" font-size="7.10" fill="#1a1a1a" stroke="#1a1a1a" stroke-width="0.12" style="font-family:'Liberation Sans',sans-serif">Macrophage</text>
<text clip-path="url(#t2c1)" x="513.90" y="366.80" font-size="7.10" fill="#1a1a1a" stroke="#1a1a1a" stroke-width="0.12" style="font-family:'Liberation Sans',sans-serif">Immune</text>
<text clip-path="url(#t2c2)" x="557.40" y="366.80" font-size="7.10" fill="#1a1a1a" stroke="#1a1a1a" stroke-width="0.12" style="font-family:'Liberation Sans',sans-serif">wk11_vs_N</text>
<text x="638.90" y="366.80" font-size="7.10" fill="#1a1a1a" stroke="#1a1a1a" stroke-width="0.12" text-anchor="end" style="font-family:'Liberation Sans',sans-serif">1.64E-177</text>
<text x="681.50" y="366.80" font-size="7.10" fill="#1a1a1a" stroke="#1a1a1a" stroke-width="0.12" text-anchor="end" style="font-family:'Liberation Sans',sans-serif">2.366E-176</text>
<text clip-path="url(#t2c0)" x="472.00" y="377.70" font-size="7.10" fill="#1a1a1a" stroke="#1a1a1a" stroke-width="0.12" style="font-family:'Liberation Sans',sans-serif">Monocyte</text>
<text clip-path="url(#t2c1)" x="513.90" y="377.70" font-size="7.10" fill="#1a1a1a" stroke="#1a1a1a" stroke-width="0.12" style="font-family:'Liberation Sans',sans-serif">Immune</text>
<text clip-path="url(#t2c2)" x="557.40" y="377.70" font-size="7.10" fill="#1a1a1a" stroke="#1a1a1a" stroke-width="0.12" style="font-family:'Liberation Sans',sans-serif">wk5_vs_wk11</text>
<text x="638.90" y="377.70" font-size="7.10" fill="#1a1a1a" stroke="#1a1a1a" stroke-width="0.12" text-anchor="end" style="font-family:'Liberation Sans',sans-serif">2.74E-17</text>
<text x="681.50" y="377.70" font-size="7.10" fill="#1a1a1a" stroke="#1a1a1a" stroke-width="0.12" text-anchor="end" style="font-family:'Liberation Sans',sans-serif">9.3928E-17</text>
<text clip-path="url(#t2c0)" x="472.00" y="388.50" font-size="7.10" fill="#1a1a1a" stroke="#1a1a1a" stroke-width="0.12" style="font-family:'Liberation Sans',sans-serif">Monocyte</text>
<text clip-path="url(#t2c1)" x="513.90" y="388.50" font-size="7.10" fill="#1a1a1a" stroke="#1a1a1a" stroke-width="0.12" style="font-family:'Liberation Sans',sans-serif">Immune</text>
<text clip-path="url(#t2c2)" x="557.40" y="388.50" font-size="7.10" fill="#1a1a1a" stroke="#1a1a1a" stroke-width="0.12" style="font-family:'Liberation Sans',sans-serif">wk5_vs_wk13</text>
<text x="638.90" y="388.50" font-size="7.10" fill="#1a1a1a" stroke="#1a1a1a" stroke-width="0.12" text-anchor="end" style="font-family:'Liberation Sans',sans-serif">5.81E-78</text>
<text x="681.50" y="388.50" font-size="7.10" fill="#1a1a1a" stroke="#1a1a1a" stroke-width="0.12" text-anchor="end" style="font-family:'Liberation Sans',sans-serif">5.5753E-77</text>
<text clip-path="url(#t2c0)" x="472.00" y="399.70" font-size="7.10" fill="#1a1a1a" stroke="#1a1a1a" stroke-width="0.12" style="font-family:'Liberation Sans',sans-serif">Monocyte</text>
<text clip-path="url(#t2c1)" x="513.90" y="399.70" font-size="7.10" fill="#1a1a1a" stroke="#1a1a1a" stroke-width="0.12" style="font-family:'Liberation Sans',sans-serif">Immune</text>
<text clip-path="url(#t2c2)" x="557.40" y="399.70" font-size="7.10" fill="#1a1a1a" stroke="#1a1a1a" stroke-width="0.12" style="font-family:'Liberation Sans',sans-serif">wk11_vs_N</text>
<text x="638.90" y="399.70" font-size="7.10" fill="#1a1a1a" stroke="#1a1a1a" stroke-width="0.12" text-anchor="end" style="font-family:'Liberation Sans',sans-serif">9.78E-47</text>
<text x="681.50" y="399.70" font-size="7.10" fill="#1a1a1a" stroke="#1a1a1a" stroke-width="0.12" text-anchor="end" style="font-family:'Liberation Sans',sans-serif">6.4038E-46</text>
<text clip-path="url(#t2c0)" x="472.00" y="410.40" font-size="7.10" fill="#1a1a1a" stroke="#1a1a1a" stroke-width="0.12" style="font-family:'Liberation Sans',sans-serif">CD4+ T cell</text>
<text clip-path="url(#t2c1)" x="513.90" y="410.40" font-size="7.10" fill="#1a1a1a" stroke="#1a1a1a" stroke-width="0.12" style="font-family:'Liberation Sans',sans-serif">Immune</text>
<text clip-path="url(#t2c2)" x="557.40" y="410.40" font-size="7.10" fill="#1a1a1a" stroke="#1a1a1a" stroke-width="0.12" style="font-family:'Liberation Sans',sans-serif">wk5_vs_wk11</text>
<text x="638.90" y="410.40" font-size="7.10" fill="#1a1a1a" stroke="#1a1a1a" stroke-width="0.12" text-anchor="end" style="font-family:'Liberation Sans',sans-serif">6.06E-06</text>
<text x="681.50" y="410.40" font-size="7.10" fill="#1a1a1a" stroke="#1a1a1a" stroke-width="0.12" text-anchor="end" style="font-family:'Liberation Sans',sans-serif">1.3215E-05</text>
<text clip-path="url(#t2c0)" x="472.00" y="421.50" font-size="7.10" fill="#1a1a1a" stroke="#1a1a1a" stroke-width="0.12" style="font-family:'Liberation Sans',sans-serif">CD4+ T cell</text>
<text clip-path="url(#t2c1)" x="513.90" y="421.50" font-size="7.10" fill="#1a1a1a" stroke="#1a1a1a" stroke-width="0.12" style="font-family:'Liberation Sans',sans-serif">Immune</text>
<text clip-path="url(#t2c2)" x="557.40" y="421.50" font-size="7.10" fill="#1a1a1a" stroke="#1a1a1a" stroke-width="0.12" style="font-family:'Liberation Sans',sans-serif">wk5_vs_wk13</text>
<text x="638.90" y="421.50" font-size="7.10" fill="#1a1a1a" stroke="#1a1a1a" stroke-width="0.12" text-anchor="end" style="font-family:'Liberation Sans',sans-serif">3.00E-18</text>
<text x="681.50" y="421.50" font-size="7.10" fill="#1a1a1a" stroke="#1a1a1a" stroke-width="0.12" text-anchor="end" style="font-family:'Liberation Sans',sans-serif">1.0798E-17</text>
<text clip-path="url(#t2c0)" x="472.00" y="431.70" font-size="7.10" fill="#1a1a1a" stroke="#1a1a1a" stroke-width="0.12" style="font-family:'Liberation Sans',sans-serif">CD4+ T cell</text>
<text clip-path="url(#t2c1)" x="513.90" y="431.70" font-size="7.10" fill="#1a1a1a" stroke="#1a1a1a" stroke-width="0.12" style="font-family:'Liberation Sans',sans-serif">Immune</text>
<text clip-path="url(#t2c2)" x="557.40" y="431.70" font-size="7.10" fill="#1a1a1a" stroke="#1a1a1a" stroke-width="0.12" style="font-family:'Liberation Sans',sans-serif">wk5_vs_N</text>
<text x="638.90" y="431.70" font-size="7.10" fill="#1a1a1a" stroke="#1a1a1a" stroke-width="0.12" text-anchor="end" style="font-family:'Liberation Sans',sans-serif">3.48E-07</text>
<text x="681.50" y="431.70" font-size="7.10" fill="#1a1a1a" stroke="#1a1a1a" stroke-width="0.12" text-anchor="end" style="font-family:'Liberation Sans',sans-serif">9.2929E-07</text>
<text clip-path="url(#t2c0)" x="472.00" y="442.80" font-size="7.10" fill="#1a1a1a" stroke="#1a1a1a" stroke-width="0.12" style="font-family:'Liberation Sans',sans-serif">CD8+ T cell</text>
<text clip-path="url(#t2c1)" x="513.90" y="442.80" font-size="7.10" fill="#1a1a1a" stroke="#1a1a1a" stroke-width="0.12" style="font-family:'Liberation Sans',sans-serif">Immune</text>
<text clip-path="url(#t2c2)" x="557.40" y="442.80" font-size="7.10" fill="#1a1a1a" stroke="#1a1a1a" stroke-width="0.12" style="font-family:'Liberation Sans',sans-serif">wk5_vs_wk11</text>
<text x="638.90" y="442.80" font-size="7.10" fill="#1a1a1a" stroke="#1a1a1a" stroke-width="0.12" text-anchor="end" style="font-family:'Liberation Sans',sans-serif">8.03E-07</text>
<text x="681.50" y="442.80" font-size="7.10" fill="#1a1a1a" stroke="#1a1a1a" stroke-width="0.12" text-anchor="end" style="font-family:'Liberation Sans',sans-serif">1.993E-06</text>
<text clip-path="url(#t2c0)" x="472.00" y="454.00" font-size="7.10" fill="#1a1a1a" stroke="#1a1a1a" stroke-width="0.12" style="font-family:'Liberation Sans',sans-serif">CD8+ T cell</text>
<text clip-path="url(#t2c1)" x="513.90" y="454.00" font-size="7.10" fill="#1a1a1a" stroke="#1a1a1a" stroke-width="0.12" style="font-family:'Liberation Sans',sans-serif">Immune</text>
<text clip-path="url(#t2c2)" x="557.40" y="454.00" font-size="7.10" fill="#1a1a1a" stroke="#1a1a1a" stroke-width="0.12" style="font-family:'Liberation Sans',sans-serif">wk11_vs_N</text>
<text x="638.90" y="454.00" font-size="7.10" fill="#1a1a1a" stroke="#1a1a1a" stroke-width="0.12" text-anchor="end" style="font-family:'Liberation Sans',sans-serif">2.48E-07</text>
<text x="681.50" y="454.00" font-size="7.10" fill="#1a1a1a" stroke="#1a1a1a" stroke-width="0.12" text-anchor="end" style="font-family:'Liberation Sans',sans-serif">6.8642E-07</text>
<text clip-path="url(#t2c0)" x="472.00" y="465.00" font-size="7.10" fill="#1a1a1a" stroke="#1a1a1a" stroke-width="0.12" style="font-family:'Liberation Sans',sans-serif">NK/NKT cell</text>
<text clip-path="url(#t2c1)" x="513.90" y="465.00" font-size="7.10" fill="#1a1a1a" stroke="#1a1a1a" stroke-width="0.12" style="font-family:'Liberation Sans',sans-serif">Immune</text>
<text clip-path="url(#t2c2)" x="557.40" y="465.00" font-size="7.10" fill="#1a1a1a" stroke="#1a1a1a" stroke-width="0.12" style="font-family:'Liberation Sans',sans-serif">wk5_vs_wk11</text>
<text x="638.90" y="465.00" font-size="7.10" fill="#1a1a1a" stroke="#1a1a1a" stroke-width="0.12" text-anchor="end" style="font-family:'Liberation Sans',sans-serif">0.01768981</text>
<text x="681.50" y="465.00" font-size="7.10" fill="#1a1a1a" stroke="#1a1a1a" stroke-width="0.12" text-anchor="end" style="font-family:'Liberation Sans',sans-serif">0.02996861</text>
<text clip-path="url(#t2c0)" x="472.00" y="475.90" font-size="7.10" fill="#1a1a1a" stroke="#1a1a1a" stroke-width="0.12" style="font-family:'Liberation Sans',sans-serif">Mast cells</text>
<text clip-path="url(#t2c1)" x="513.90" y="475.90" font-size="7.10" fill="#1a1a1a" stroke="#1a1a1a" stroke-width="0.12" style="font-family:'Liberation Sans',sans-serif">Immune</text>
<text clip-path="url(#t2c2)" x="557.40" y="475.90" font-size="7.10" fill="#1a1a1a" stroke="#1a1a1a" stroke-width="0.12" style="font-family:'Liberation Sans',sans-serif">wk5_vs_wk11</text>
<text x="638.90" y="475.90" font-size="7.10" fill="#1a1a1a" stroke="#1a1a1a" stroke-width="0.12" text-anchor="end" style="font-family:'Liberation Sans',sans-serif">0.01919578</text>
<text x="681.50" y="475.90" font-size="7.10" fill="#1a1a1a" stroke="#1a1a1a" stroke-width="0.12" text-anchor="end" style="font-family:'Liberation Sans',sans-serif">0.03214178</text>
<line x1="469.90" x2="683.60" y1="337.30" y2="337.30" stroke="#222" stroke-width="1.3"/>
<line x1="470.50" x2="683.00" y1="347.60" y2="347.60" stroke="#444" stroke-width="1.0"/>
<line x1="470.50" x2="683.00" y1="358.40" y2="358.40" stroke="#484848" stroke-width="1.0"/>
<line x1="469.90" x2="683.60" y1="369.30" y2="369.30" stroke="#111" stroke-width="1.8"/>
<line x1="470.50" x2="683.00" y1="380.20" y2="380.20" stroke="#484848" stroke-width="1.0"/>
<line x1="470.50" x2="683.00" y1="391.00" y2="391.00" stroke="#484848" stroke-width="1.0"/>
<line x1="469.90" x2="683.60" y1="402.20" y2="402.20" stroke="#111" stroke-width="1.8"/>
<line x1="470.50" x2="683.00" y1="412.90" y2="412.90" stroke="#484848" stroke-width="1.0"/>
<line x1="470.50" x2="683.00" y1="424.00" y2="424.00" stroke="#484848" stroke-width="1.0"/>
<line x1="469.90" x2="683.60" y1="434.20" y2="434.20" stroke="#111" stroke-width="1.8"/>
<line x1="470.50" x2="683.00" y1="445.30" y2="445.30" stroke="#484848" stroke-width="1.0"/>
<line x1="469.90" x2="683.60" y1="456.50" y2="456.50" stroke="#111" stroke-width="1.8"/>
<line x1="469.90" x2="683.60" y1="467.50" y2="467.50" stroke="#111" stroke-width="1.8"/>
<line x1="469.90" x2="683.60" y1="478.40" y2="478.40" stroke="#111" stroke-width="1.8"/>
<line x1="470.50" x2="470.50" y1="337.30" y2="478.40" stroke="#333" stroke-width="1.30"/>
<line x1="512.40" x2="512.40" y1="337.30" y2="478.40" stroke="#333" stroke-width="1.00"/>
<line x1="555.90" x2="555.90" y1="337.30" y2="478.40" stroke="#333" stroke-width="1.00"/>
<line x1="598.20" x2="598.20" y1="337.30" y2="478.40" stroke="#333" stroke-width="1.00"/>
<line x1="640.40" x2="640.40" y1="337.30" y2="478.40" stroke="#333" stroke-width="1.00"/>
<line x1="683.00" x2="683.00" y1="337.30" y2="478.40" stroke="#333" stroke-width="1.30"/>
<text transform="translate(453.8,343.00) scale(0.86,1)" font-size="9.9" fill="#111" stroke="#111" stroke-width="0.15" style="font-family:'Liberation Sans',sans-serif">F</text>
</svg></body></html>
